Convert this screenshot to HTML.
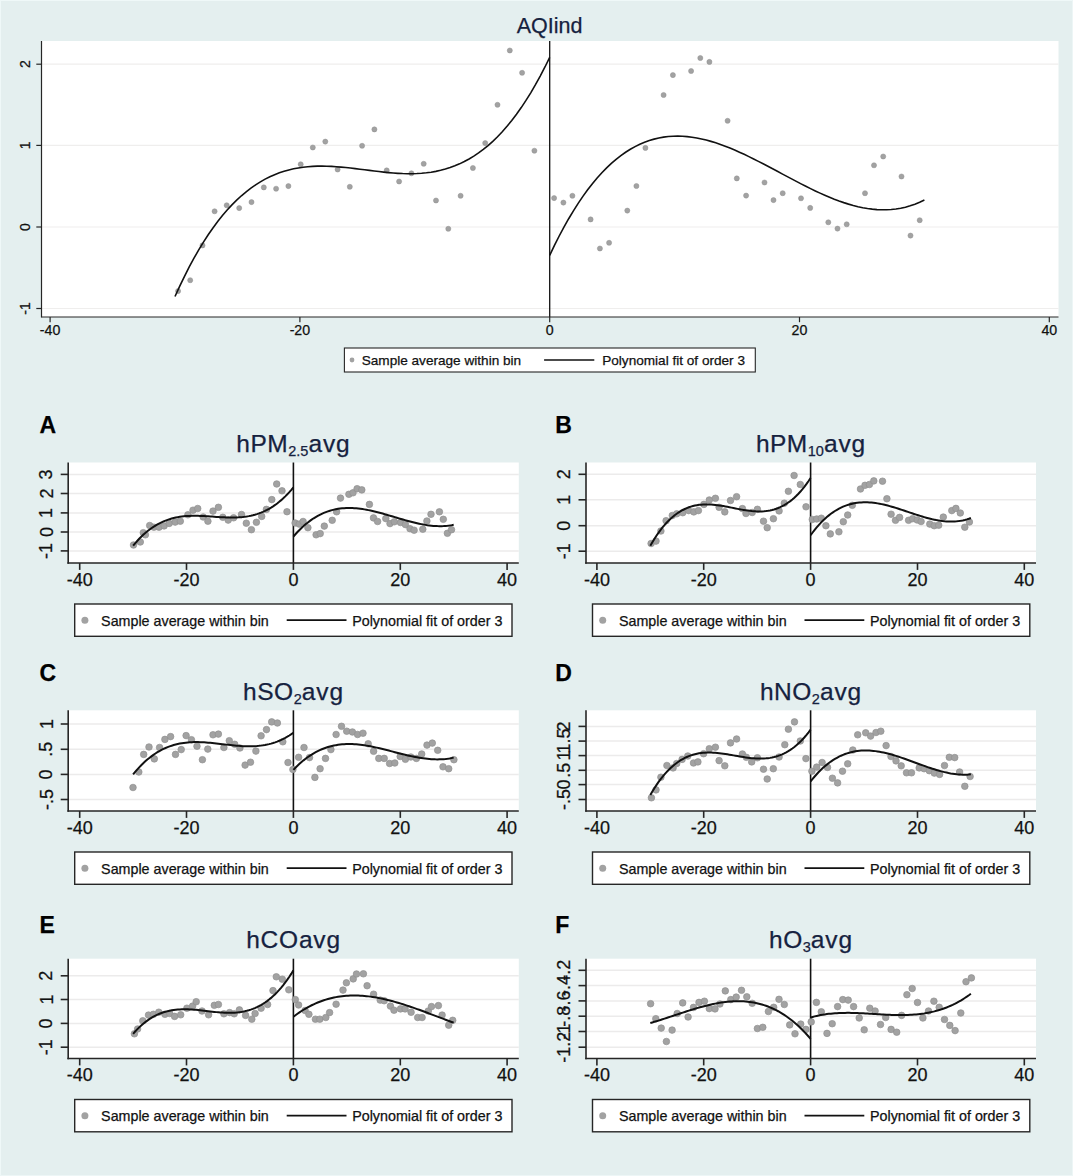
<!DOCTYPE html>
<html><head><meta charset="utf-8"><title>rdplot</title>
<style>html,body{margin:0;padding:0;background:#e4efef;overflow:hidden;}svg{display:block;}text{font-family:"Liberation Sans",sans-serif;stroke-width:0.25px;}</style>
</head><body>
<svg width="1073" height="1176" viewBox="0 0 1073 1176" font-family="Liberation Sans, sans-serif">
<rect x="0" y="0" width="1073" height="1176" fill="#e4efef"/>
<rect x="0" y="0" width="1073" height="1" fill="#eff8f8"/>
<rect x="0" y="0" width="1" height="1176" fill="#eff8f8"/>
<rect x="1072" y="0" width="1" height="1176" fill="#edf6f6"/>
<rect x="0" y="1175" width="1073" height="1" fill="#edf6f6"/>
<rect x="41.5" y="41" width="1017.0" height="276" fill="#ffffff"/>
<line x1="41.5" x2="1058.5" y1="64.2" y2="64.2" stroke="#efeeed" stroke-width="1.2"/>
<line x1="41.5" x2="1058.5" y1="145.4" y2="145.4" stroke="#efeeed" stroke-width="1.2"/>
<line x1="41.5" x2="1058.5" y1="227" y2="227" stroke="#efeeed" stroke-width="1.2"/>
<line x1="41.5" x2="1058.5" y1="308.5" y2="308.5" stroke="#efeeed" stroke-width="1.2"/>
<line x1="549.7" x2="549.7" y1="41" y2="317" stroke="#111111" stroke-width="1.3"/>
<circle cx="178.1" cy="291.1" r="2.55" fill="#a2a2a2" stroke="#909090" stroke-width="0.5"/>
<circle cx="190.2" cy="280.2" r="2.55" fill="#a2a2a2" stroke="#909090" stroke-width="0.5"/>
<circle cx="202.5" cy="245.4" r="2.55" fill="#a2a2a2" stroke="#909090" stroke-width="0.5"/>
<circle cx="214.6" cy="211.3" r="2.55" fill="#a2a2a2" stroke="#909090" stroke-width="0.5"/>
<circle cx="226.7" cy="205.3" r="2.55" fill="#a2a2a2" stroke="#909090" stroke-width="0.5"/>
<circle cx="239.2" cy="208.1" r="2.55" fill="#a2a2a2" stroke="#909090" stroke-width="0.5"/>
<circle cx="251.5" cy="202.1" r="2.55" fill="#a2a2a2" stroke="#909090" stroke-width="0.5"/>
<circle cx="263.8" cy="187.4" r="2.55" fill="#a2a2a2" stroke="#909090" stroke-width="0.5"/>
<circle cx="276.1" cy="188.7" r="2.55" fill="#a2a2a2" stroke="#909090" stroke-width="0.5"/>
<circle cx="288.4" cy="186.1" r="2.55" fill="#a2a2a2" stroke="#909090" stroke-width="0.5"/>
<circle cx="300.7" cy="164.3" r="2.55" fill="#a2a2a2" stroke="#909090" stroke-width="0.5"/>
<circle cx="312.8" cy="147.5" r="2.55" fill="#a2a2a2" stroke="#909090" stroke-width="0.5"/>
<circle cx="325.3" cy="141.6" r="2.55" fill="#a2a2a2" stroke="#909090" stroke-width="0.5"/>
<circle cx="337.6" cy="169.5" r="2.55" fill="#a2a2a2" stroke="#909090" stroke-width="0.5"/>
<circle cx="349.8" cy="186.8" r="2.55" fill="#a2a2a2" stroke="#909090" stroke-width="0.5"/>
<circle cx="362.1" cy="145.8" r="2.55" fill="#a2a2a2" stroke="#909090" stroke-width="0.5"/>
<circle cx="374.4" cy="129.4" r="2.55" fill="#a2a2a2" stroke="#909090" stroke-width="0.5"/>
<circle cx="386.7" cy="170.4" r="2.55" fill="#a2a2a2" stroke="#909090" stroke-width="0.5"/>
<circle cx="399.1" cy="181.5" r="2.55" fill="#a2a2a2" stroke="#909090" stroke-width="0.5"/>
<circle cx="411.4" cy="173.3" r="2.55" fill="#a2a2a2" stroke="#909090" stroke-width="0.5"/>
<circle cx="423.7" cy="163.8" r="2.55" fill="#a2a2a2" stroke="#909090" stroke-width="0.5"/>
<circle cx="436" cy="200.5" r="2.55" fill="#a2a2a2" stroke="#909090" stroke-width="0.5"/>
<circle cx="448.3" cy="228.8" r="2.55" fill="#a2a2a2" stroke="#909090" stroke-width="0.5"/>
<circle cx="460.6" cy="195.8" r="2.55" fill="#a2a2a2" stroke="#909090" stroke-width="0.5"/>
<circle cx="472.9" cy="168" r="2.55" fill="#a2a2a2" stroke="#909090" stroke-width="0.5"/>
<circle cx="485.2" cy="143.1" r="2.55" fill="#a2a2a2" stroke="#909090" stroke-width="0.5"/>
<circle cx="497.5" cy="104.8" r="2.55" fill="#a2a2a2" stroke="#909090" stroke-width="0.5"/>
<circle cx="509.8" cy="50.5" r="2.55" fill="#a2a2a2" stroke="#909090" stroke-width="0.5"/>
<circle cx="522.1" cy="72.8" r="2.55" fill="#a2a2a2" stroke="#909090" stroke-width="0.5"/>
<circle cx="534.4" cy="150.7" r="2.55" fill="#a2a2a2" stroke="#909090" stroke-width="0.5"/>
<circle cx="554.1" cy="198.1" r="2.55" fill="#a2a2a2" stroke="#909090" stroke-width="0.5"/>
<circle cx="563.4" cy="202.6" r="2.55" fill="#a2a2a2" stroke="#909090" stroke-width="0.5"/>
<circle cx="572.4" cy="195.8" r="2.55" fill="#a2a2a2" stroke="#909090" stroke-width="0.5"/>
<circle cx="590.6" cy="219.4" r="2.55" fill="#a2a2a2" stroke="#909090" stroke-width="0.5"/>
<circle cx="599.9" cy="248.5" r="2.55" fill="#a2a2a2" stroke="#909090" stroke-width="0.5"/>
<circle cx="609.1" cy="242.8" r="2.55" fill="#a2a2a2" stroke="#909090" stroke-width="0.5"/>
<circle cx="627.3" cy="210.6" r="2.55" fill="#a2a2a2" stroke="#909090" stroke-width="0.5"/>
<circle cx="636.4" cy="186" r="2.55" fill="#a2a2a2" stroke="#909090" stroke-width="0.5"/>
<circle cx="645.4" cy="147.9" r="2.55" fill="#a2a2a2" stroke="#909090" stroke-width="0.5"/>
<circle cx="663.6" cy="95" r="2.55" fill="#a2a2a2" stroke="#909090" stroke-width="0.5"/>
<circle cx="672.9" cy="75.1" r="2.55" fill="#a2a2a2" stroke="#909090" stroke-width="0.5"/>
<circle cx="691.1" cy="71" r="2.55" fill="#a2a2a2" stroke="#909090" stroke-width="0.5"/>
<circle cx="700.3" cy="58" r="2.55" fill="#a2a2a2" stroke="#909090" stroke-width="0.5"/>
<circle cx="709.4" cy="61.9" r="2.55" fill="#a2a2a2" stroke="#909090" stroke-width="0.5"/>
<circle cx="727.6" cy="120.8" r="2.55" fill="#a2a2a2" stroke="#909090" stroke-width="0.5"/>
<circle cx="736.8" cy="178.4" r="2.55" fill="#a2a2a2" stroke="#909090" stroke-width="0.5"/>
<circle cx="746.1" cy="195.6" r="2.55" fill="#a2a2a2" stroke="#909090" stroke-width="0.5"/>
<circle cx="764.5" cy="182.5" r="2.55" fill="#a2a2a2" stroke="#909090" stroke-width="0.5"/>
<circle cx="773.5" cy="200.1" r="2.55" fill="#a2a2a2" stroke="#909090" stroke-width="0.5"/>
<circle cx="782.7" cy="193.2" r="2.55" fill="#a2a2a2" stroke="#909090" stroke-width="0.5"/>
<circle cx="801" cy="198.3" r="2.55" fill="#a2a2a2" stroke="#909090" stroke-width="0.5"/>
<circle cx="810.2" cy="207.9" r="2.55" fill="#a2a2a2" stroke="#909090" stroke-width="0.5"/>
<circle cx="828.3" cy="222.3" r="2.55" fill="#a2a2a2" stroke="#909090" stroke-width="0.5"/>
<circle cx="837.5" cy="228.6" r="2.55" fill="#a2a2a2" stroke="#909090" stroke-width="0.5"/>
<circle cx="846.7" cy="224.3" r="2.55" fill="#a2a2a2" stroke="#909090" stroke-width="0.5"/>
<circle cx="865" cy="193.2" r="2.55" fill="#a2a2a2" stroke="#909090" stroke-width="0.5"/>
<circle cx="874" cy="165.3" r="2.55" fill="#a2a2a2" stroke="#909090" stroke-width="0.5"/>
<circle cx="883.2" cy="156.5" r="2.55" fill="#a2a2a2" stroke="#909090" stroke-width="0.5"/>
<circle cx="901.5" cy="176.5" r="2.55" fill="#a2a2a2" stroke="#909090" stroke-width="0.5"/>
<circle cx="910.5" cy="235.6" r="2.55" fill="#a2a2a2" stroke="#909090" stroke-width="0.5"/>
<circle cx="919.7" cy="220.2" r="2.55" fill="#a2a2a2" stroke="#909090" stroke-width="0.5"/>
<path d="M175.00,296.52 L179.74,286.12 L184.49,276.28 L189.23,266.97 L193.97,258.18 L198.72,249.89 L203.46,242.10 L208.20,234.78 L212.94,227.93 L217.69,221.53 L222.43,215.56 L227.17,210.01 L231.92,204.88 L236.66,200.13 L241.40,195.77 L246.15,191.77 L250.89,188.12 L255.63,184.81 L260.37,181.83 L265.12,179.15 L269.86,176.77 L274.60,174.67 L279.35,172.84 L284.09,171.27 L288.83,169.93 L293.58,168.82 L298.32,167.92 L303.06,167.22 L307.81,166.71 L312.55,166.36 L317.29,166.17 L322.03,166.13 L326.78,166.21 L331.52,166.41 L336.26,166.70 L341.01,167.08 L345.75,167.54 L350.49,168.05 L355.24,168.61 L359.98,169.20 L364.72,169.80 L369.46,170.41 L374.21,171.01 L378.95,171.58 L383.69,172.11 L388.44,172.59 L393.18,173.00 L397.92,173.33 L402.67,173.56 L407.41,173.68 L412.15,173.69 L416.89,173.55 L421.64,173.26 L426.38,172.81 L431.12,172.18 L435.87,171.35 L440.61,170.32 L445.35,169.07 L450.10,167.58 L454.84,165.85 L459.58,163.85 L464.33,161.57 L469.07,159.01 L473.81,156.13 L478.55,152.94 L483.30,149.42 L488.04,145.55 L492.78,141.32 L497.53,136.71 L502.27,131.72 L507.01,126.32 L511.76,120.51 L516.50,114.27 L521.24,107.58 L525.98,100.43 L530.73,92.81 L535.47,84.70 L540.21,76.10 L544.96,66.98 L549.70,57.33" fill="none" stroke="#111111" stroke-width="1.6"/>
<path d="M549.70,255.28 L554.44,245.38 L559.19,236.00 L563.93,227.11 L568.67,218.72 L573.42,210.80 L578.16,203.36 L582.90,196.37 L587.64,189.82 L592.39,183.72 L597.13,178.03 L601.87,172.77 L606.62,167.90 L611.36,163.43 L616.10,159.35 L620.85,155.63 L625.59,152.28 L630.33,149.27 L635.07,146.61 L639.82,144.27 L644.56,142.25 L649.30,140.54 L654.05,139.13 L658.79,138.00 L663.53,137.14 L668.28,136.55 L673.02,136.22 L677.76,136.13 L682.51,136.27 L687.25,136.63 L691.99,137.20 L696.73,137.97 L701.48,138.93 L706.22,140.07 L710.96,141.38 L715.71,142.85 L720.45,144.46 L725.19,146.21 L729.94,148.08 L734.68,150.07 L739.42,152.16 L744.16,154.34 L748.91,156.60 L753.65,158.94 L758.39,161.34 L763.14,163.78 L767.88,166.27 L772.62,168.78 L777.37,171.32 L782.11,173.86 L786.85,176.39 L791.59,178.91 L796.34,181.41 L801.08,183.87 L805.82,186.28 L810.57,188.64 L815.31,190.93 L820.05,193.13 L824.80,195.25 L829.54,197.27 L834.28,199.18 L839.03,200.97 L843.77,202.62 L848.51,204.13 L853.25,205.49 L858.00,206.68 L862.74,207.70 L867.48,208.53 L872.23,209.16 L876.97,209.59 L881.71,209.80 L886.46,209.78 L891.20,209.52 L895.94,209.01 L900.68,208.23 L905.43,207.19 L910.17,205.86 L914.91,204.24 L919.66,202.32 L924.40,200.08" fill="none" stroke="#111111" stroke-width="1.6"/>
<line x1="41.5" x2="41.5" y1="41" y2="317.5" stroke="#262626" stroke-width="1.2"/>
<line x1="41.5" x2="1058.5" y1="317" y2="317" stroke="#262626" stroke-width="1.2"/>
<line x1="36.3" x2="41.5" y1="64.2" y2="64.2" stroke="#262626" stroke-width="1.2"/>
<text x="29.8" y="64.2" transform="rotate(-90 29.8 64.2)" text-anchor="middle" font-size="14" fill="#111111" stroke="#111111">2</text>
<line x1="36.3" x2="41.5" y1="145.4" y2="145.4" stroke="#262626" stroke-width="1.2"/>
<text x="29.8" y="145.4" transform="rotate(-90 29.8 145.4)" text-anchor="middle" font-size="14" fill="#111111" stroke="#111111">1</text>
<line x1="36.3" x2="41.5" y1="227" y2="227" stroke="#262626" stroke-width="1.2"/>
<text x="29.8" y="227" transform="rotate(-90 29.8 227)" text-anchor="middle" font-size="14" fill="#111111" stroke="#111111">0</text>
<line x1="36.3" x2="41.5" y1="308.5" y2="308.5" stroke="#262626" stroke-width="1.2"/>
<text x="29.8" y="308.5" transform="rotate(-90 29.8 308.5)" text-anchor="middle" font-size="14" fill="#111111" stroke="#111111">-1</text>
<line x1="50.1" x2="50.1" y1="317" y2="322.2" stroke="#262626" stroke-width="1.2"/>
<text x="50.1" y="334.8" text-anchor="middle" font-size="14.2" fill="#111111" stroke="#111111">-40</text>
<line x1="299.9" x2="299.9" y1="317" y2="322.2" stroke="#262626" stroke-width="1.2"/>
<text x="299.9" y="334.8" text-anchor="middle" font-size="14.2" fill="#111111" stroke="#111111">-20</text>
<line x1="549.7" x2="549.7" y1="317" y2="322.2" stroke="#262626" stroke-width="1.2"/>
<text x="549.7" y="334.8" text-anchor="middle" font-size="14.2" fill="#111111" stroke="#111111">0</text>
<line x1="799.5" x2="799.5" y1="317" y2="322.2" stroke="#262626" stroke-width="1.2"/>
<text x="799.5" y="334.8" text-anchor="middle" font-size="14.2" fill="#111111" stroke="#111111">20</text>
<line x1="1049.3" x2="1049.3" y1="317" y2="322.2" stroke="#262626" stroke-width="1.2"/>
<text x="1049.3" y="334.8" text-anchor="middle" font-size="14.2" fill="#111111" stroke="#111111">40</text>
<text x="549.5" y="32.8" text-anchor="middle" font-size="21.5" fill="#16223f" stroke="#16223f">AQIind</text>
<rect x="344.4" y="348" width="410.9" height="24" fill="#ffffff" stroke="#262626" stroke-width="1.1"/>
<circle cx="352" cy="360" r="2.4" fill="#a2a2a2"/>
<text x="361.7" y="365" font-size="13.6" fill="#111111" stroke="#111111">Sample average within bin</text>
<line x1="544.1" x2="594.3" y1="360" y2="360" stroke="#111111" stroke-width="1.3"/>
<text x="602.2" y="365" font-size="13.6" fill="#111111" stroke="#111111">Polynomial fit of order 3</text>
<rect x="68.2" y="462.5" width="450.59999999999997" height="100.5" fill="#ffffff"/>
<line x1="68.2" x2="518.8" y1="474.4" y2="474.4" stroke="#ecebeb" stroke-width="1.5"/>
<line x1="68.2" x2="518.8" y1="493.5" y2="493.5" stroke="#ecebeb" stroke-width="1.5"/>
<line x1="68.2" x2="518.8" y1="512.9" y2="512.9" stroke="#ecebeb" stroke-width="1.5"/>
<line x1="68.2" x2="518.8" y1="532" y2="532" stroke="#ecebeb" stroke-width="1.5"/>
<line x1="68.2" x2="518.8" y1="550.9" y2="550.9" stroke="#ecebeb" stroke-width="1.5"/>
<line x1="293.4" x2="293.4" y1="462.5" y2="563.0" stroke="#111111" stroke-width="1.6"/>
<circle cx="133.5" cy="545" r="3.3" fill="#a2a2a2" stroke="#909090" stroke-width="0.7"/>
<circle cx="140.3" cy="542" r="3.3" fill="#a2a2a2" stroke="#909090" stroke-width="0.7"/>
<circle cx="143.3" cy="532.7" r="3.3" fill="#a2a2a2" stroke="#909090" stroke-width="0.7"/>
<circle cx="145.4" cy="534.8" r="3.3" fill="#a2a2a2" stroke="#909090" stroke-width="0.7"/>
<circle cx="149.7" cy="525.5" r="3.3" fill="#a2a2a2" stroke="#909090" stroke-width="0.7"/>
<circle cx="153.9" cy="527.2" r="3.3" fill="#a2a2a2" stroke="#909090" stroke-width="0.7"/>
<circle cx="159" cy="527.2" r="3.3" fill="#a2a2a2" stroke="#909090" stroke-width="0.7"/>
<circle cx="164.1" cy="525.9" r="3.3" fill="#a2a2a2" stroke="#909090" stroke-width="0.7"/>
<circle cx="169.2" cy="523.4" r="3.3" fill="#a2a2a2" stroke="#909090" stroke-width="0.7"/>
<circle cx="175.2" cy="522.1" r="3.3" fill="#a2a2a2" stroke="#909090" stroke-width="0.7"/>
<circle cx="180.3" cy="521.2" r="3.3" fill="#a2a2a2" stroke="#909090" stroke-width="0.7"/>
<circle cx="187.9" cy="514.8" r="3.3" fill="#a2a2a2" stroke="#909090" stroke-width="0.7"/>
<circle cx="193" cy="510.2" r="3.3" fill="#a2a2a2" stroke="#909090" stroke-width="0.7"/>
<circle cx="197.7" cy="508.5" r="3.3" fill="#a2a2a2" stroke="#909090" stroke-width="0.7"/>
<circle cx="203.2" cy="517" r="3.3" fill="#a2a2a2" stroke="#909090" stroke-width="0.7"/>
<circle cx="207.9" cy="521.2" r="3.3" fill="#a2a2a2" stroke="#909090" stroke-width="0.7"/>
<circle cx="213" cy="511.1" r="3.3" fill="#a2a2a2" stroke="#909090" stroke-width="0.7"/>
<circle cx="218.4" cy="507.3" r="3.3" fill="#a2a2a2" stroke="#909090" stroke-width="0.7"/>
<circle cx="222.8" cy="517.3" r="3.3" fill="#a2a2a2" stroke="#909090" stroke-width="0.7"/>
<circle cx="228.2" cy="520.1" r="3.3" fill="#a2a2a2" stroke="#909090" stroke-width="0.7"/>
<circle cx="233.6" cy="517.8" r="3.3" fill="#a2a2a2" stroke="#909090" stroke-width="0.7"/>
<circle cx="241.5" cy="514.5" r="3.3" fill="#a2a2a2" stroke="#909090" stroke-width="0.7"/>
<circle cx="246.3" cy="523.2" r="3.3" fill="#a2a2a2" stroke="#909090" stroke-width="0.7"/>
<circle cx="251.4" cy="529.7" r="3.3" fill="#a2a2a2" stroke="#909090" stroke-width="0.7"/>
<circle cx="256.4" cy="522.3" r="3.3" fill="#a2a2a2" stroke="#909090" stroke-width="0.7"/>
<circle cx="261.7" cy="516.4" r="3.3" fill="#a2a2a2" stroke="#909090" stroke-width="0.7"/>
<circle cx="266.4" cy="509.4" r="3.3" fill="#a2a2a2" stroke="#909090" stroke-width="0.7"/>
<circle cx="271.8" cy="499.6" r="3.3" fill="#a2a2a2" stroke="#909090" stroke-width="0.7"/>
<circle cx="276.7" cy="484" r="3.3" fill="#a2a2a2" stroke="#909090" stroke-width="0.7"/>
<circle cx="282" cy="490.8" r="3.3" fill="#a2a2a2" stroke="#909090" stroke-width="0.7"/>
<circle cx="287" cy="511.7" r="3.3" fill="#a2a2a2" stroke="#909090" stroke-width="0.7"/>
<circle cx="295.1" cy="523" r="3.3" fill="#a2a2a2" stroke="#909090" stroke-width="0.7"/>
<circle cx="299.2" cy="524.1" r="3.3" fill="#a2a2a2" stroke="#909090" stroke-width="0.7"/>
<circle cx="303.1" cy="521.5" r="3.3" fill="#a2a2a2" stroke="#909090" stroke-width="0.7"/>
<circle cx="307.9" cy="527.7" r="3.3" fill="#a2a2a2" stroke="#909090" stroke-width="0.7"/>
<circle cx="316.1" cy="534.8" r="3.3" fill="#a2a2a2" stroke="#909090" stroke-width="0.7"/>
<circle cx="320.2" cy="533.6" r="3.3" fill="#a2a2a2" stroke="#909090" stroke-width="0.7"/>
<circle cx="324.3" cy="526.1" r="3.3" fill="#a2a2a2" stroke="#909090" stroke-width="0.7"/>
<circle cx="332.2" cy="520.3" r="3.3" fill="#a2a2a2" stroke="#909090" stroke-width="0.7"/>
<circle cx="336.6" cy="511.8" r="3.3" fill="#a2a2a2" stroke="#909090" stroke-width="0.7"/>
<circle cx="340.5" cy="498.1" r="3.3" fill="#a2a2a2" stroke="#909090" stroke-width="0.7"/>
<circle cx="348.9" cy="494.3" r="3.3" fill="#a2a2a2" stroke="#909090" stroke-width="0.7"/>
<circle cx="353" cy="492.8" r="3.3" fill="#a2a2a2" stroke="#909090" stroke-width="0.7"/>
<circle cx="357.1" cy="488.7" r="3.3" fill="#a2a2a2" stroke="#909090" stroke-width="0.7"/>
<circle cx="361.8" cy="489.9" r="3.3" fill="#a2a2a2" stroke="#909090" stroke-width="0.7"/>
<circle cx="369.4" cy="504.4" r="3.3" fill="#a2a2a2" stroke="#909090" stroke-width="0.7"/>
<circle cx="373.5" cy="517.9" r="3.3" fill="#a2a2a2" stroke="#909090" stroke-width="0.7"/>
<circle cx="377.6" cy="521.5" r="3.3" fill="#a2a2a2" stroke="#909090" stroke-width="0.7"/>
<circle cx="385.8" cy="518.6" r="3.3" fill="#a2a2a2" stroke="#909090" stroke-width="0.7"/>
<circle cx="390" cy="523.6" r="3.3" fill="#a2a2a2" stroke="#909090" stroke-width="0.7"/>
<circle cx="394.3" cy="521.8" r="3.3" fill="#a2a2a2" stroke="#909090" stroke-width="0.7"/>
<circle cx="400.5" cy="522.5" r="3.3" fill="#a2a2a2" stroke="#909090" stroke-width="0.7"/>
<circle cx="405.4" cy="524.6" r="3.3" fill="#a2a2a2" stroke="#909090" stroke-width="0.7"/>
<circle cx="410" cy="528.7" r="3.3" fill="#a2a2a2" stroke="#909090" stroke-width="0.7"/>
<circle cx="414.1" cy="530.2" r="3.3" fill="#a2a2a2" stroke="#909090" stroke-width="0.7"/>
<circle cx="422.8" cy="529.2" r="3.3" fill="#a2a2a2" stroke="#909090" stroke-width="0.7"/>
<circle cx="426.9" cy="521" r="3.3" fill="#a2a2a2" stroke="#909090" stroke-width="0.7"/>
<circle cx="431" cy="514.3" r="3.3" fill="#a2a2a2" stroke="#909090" stroke-width="0.7"/>
<circle cx="439.4" cy="511.8" r="3.3" fill="#a2a2a2" stroke="#909090" stroke-width="0.7"/>
<circle cx="443.3" cy="519.3" r="3.3" fill="#a2a2a2" stroke="#909090" stroke-width="0.7"/>
<circle cx="447.4" cy="533.3" r="3.3" fill="#a2a2a2" stroke="#909090" stroke-width="0.7"/>
<circle cx="451.5" cy="529.7" r="3.3" fill="#a2a2a2" stroke="#909090" stroke-width="0.7"/>
<path d="M133.11,545.71 L135.14,543.28 L137.17,540.98 L139.20,538.81 L141.23,536.76 L143.25,534.84 L145.28,533.03 L147.31,531.33 L149.34,529.74 L151.37,528.26 L153.40,526.89 L155.43,525.61 L157.46,524.43 L159.49,523.34 L161.52,522.34 L163.54,521.43 L165.57,520.60 L167.60,519.85 L169.63,519.17 L171.66,518.57 L173.69,518.04 L175.72,517.58 L177.75,517.17 L179.78,516.83 L181.81,516.54 L183.83,516.30 L185.86,516.12 L187.89,515.97 L189.92,515.88 L191.95,515.81 L193.98,515.79 L196.01,515.80 L198.04,515.83 L200.07,515.89 L202.10,515.97 L204.12,516.08 L206.15,516.19 L208.18,516.32 L210.21,516.46 L212.24,516.60 L214.27,516.74 L216.30,516.88 L218.33,517.02 L220.36,517.14 L222.39,517.26 L224.41,517.36 L226.44,517.44 L228.47,517.50 L230.50,517.53 L232.53,517.53 L234.56,517.50 L236.59,517.44 L238.62,517.34 L240.65,517.19 L242.68,517.00 L244.70,516.76 L246.73,516.47 L248.76,516.12 L250.79,515.71 L252.82,515.23 L254.85,514.70 L256.88,514.09 L258.91,513.41 L260.94,512.65 L262.97,511.81 L264.99,510.89 L267.02,509.89 L269.05,508.79 L271.08,507.60 L273.11,506.31 L275.14,504.93 L277.17,503.43 L279.20,501.84 L281.23,500.13 L283.26,498.31 L285.28,496.37 L287.31,494.31 L289.34,492.13 L291.37,489.82 L293.40,487.38" fill="none" stroke="#111111" stroke-width="2"/>
<path d="M293.40,536.56 L295.43,534.23 L297.46,532.02 L299.49,529.93 L301.52,527.95 L303.54,526.07 L305.57,524.31 L307.60,522.66 L309.63,521.10 L311.66,519.65 L313.69,518.29 L315.72,517.04 L317.75,515.87 L319.78,514.80 L321.81,513.81 L323.83,512.91 L325.86,512.10 L327.89,511.37 L329.92,510.71 L331.95,510.13 L333.98,509.63 L336.01,509.20 L338.04,508.84 L340.07,508.54 L342.10,508.31 L344.12,508.15 L346.15,508.04 L348.18,507.99 L350.21,507.99 L352.24,508.05 L354.27,508.16 L356.30,508.31 L358.33,508.52 L360.36,508.76 L362.39,509.04 L364.41,509.37 L366.44,509.73 L368.47,510.12 L370.50,510.54 L372.53,510.99 L374.56,511.47 L376.59,511.97 L378.62,512.49 L380.65,513.04 L382.68,513.59 L384.70,514.17 L386.73,514.75 L388.76,515.34 L390.79,515.95 L392.82,516.55 L394.85,517.16 L396.88,517.76 L398.91,518.37 L400.94,518.97 L402.97,519.56 L404.99,520.14 L407.02,520.71 L409.05,521.26 L411.08,521.80 L413.11,522.32 L415.14,522.81 L417.17,523.28 L419.20,523.73 L421.23,524.14 L423.26,524.52 L425.28,524.87 L427.31,525.19 L429.34,525.46 L431.37,525.69 L433.40,525.88 L435.43,526.03 L437.46,526.12 L439.49,526.16 L441.52,526.15 L443.55,526.09 L445.57,525.96 L447.60,525.78 L449.63,525.53 L451.66,525.22 L453.69,524.84" fill="none" stroke="#111111" stroke-width="2"/>
<line x1="68.2" x2="68.2" y1="462.5" y2="563.8" stroke="#262626" stroke-width="1.6"/>
<line x1="67.4" x2="518.8" y1="563.0" y2="563.0" stroke="#262626" stroke-width="1.6"/>
<line x1="60.7" x2="68.2" y1="474.4" y2="474.4" stroke="#262626" stroke-width="1.6"/>
<text x="52.5" y="474.4" transform="rotate(-90 52.5 474.4)" text-anchor="middle" font-size="18" fill="#111111" stroke="#111111">3</text>
<line x1="60.7" x2="68.2" y1="493.5" y2="493.5" stroke="#262626" stroke-width="1.6"/>
<text x="52.5" y="493.5" transform="rotate(-90 52.5 493.5)" text-anchor="middle" font-size="18" fill="#111111" stroke="#111111">2</text>
<line x1="60.7" x2="68.2" y1="512.9" y2="512.9" stroke="#262626" stroke-width="1.6"/>
<text x="52.5" y="512.9" transform="rotate(-90 52.5 512.9)" text-anchor="middle" font-size="18" fill="#111111" stroke="#111111">1</text>
<line x1="60.7" x2="68.2" y1="532" y2="532" stroke="#262626" stroke-width="1.6"/>
<text x="52.5" y="532" transform="rotate(-90 52.5 532)" text-anchor="middle" font-size="18" fill="#111111" stroke="#111111">0</text>
<line x1="60.7" x2="68.2" y1="550.9" y2="550.9" stroke="#262626" stroke-width="1.6"/>
<text x="52.5" y="550.9" transform="rotate(-90 52.5 550.9)" text-anchor="middle" font-size="18" fill="#111111" stroke="#111111">-1</text>
<line x1="79.7" x2="79.7" y1="563.0" y2="569.9" stroke="#262626" stroke-width="1.6"/>
<text x="79.7" y="585.7" text-anchor="middle" font-size="18" fill="#111111" stroke="#111111">-40</text>
<line x1="186.5" x2="186.5" y1="563.0" y2="569.9" stroke="#262626" stroke-width="1.6"/>
<text x="186.5" y="585.7" text-anchor="middle" font-size="18" fill="#111111" stroke="#111111">-20</text>
<line x1="293.4" x2="293.4" y1="563.0" y2="569.9" stroke="#262626" stroke-width="1.6"/>
<text x="293.4" y="585.7" text-anchor="middle" font-size="18" fill="#111111" stroke="#111111">0</text>
<line x1="400.3" x2="400.3" y1="563.0" y2="569.9" stroke="#262626" stroke-width="1.6"/>
<text x="400.3" y="585.7" text-anchor="middle" font-size="18" fill="#111111" stroke="#111111">20</text>
<line x1="507.1" x2="507.1" y1="563.0" y2="569.9" stroke="#262626" stroke-width="1.6"/>
<text x="507.1" y="585.7" text-anchor="middle" font-size="18" fill="#111111" stroke="#111111">40</text>
<text x="293.5" y="451.9" text-anchor="middle" font-size="24.5" letter-spacing="0.5" fill="#16223f" stroke="#16223f">hPM<tspan font-size="14.5" letter-spacing="0" dy="4">2.5</tspan><tspan dy="-4" letter-spacing="0.9">avg</tspan></text>
<text x="39.5" y="433.0" font-size="23" font-weight="bold" fill="#000" stroke="#000">A</text>
<rect x="74.7" y="604.0" width="437.3" height="32.3" fill="#ffffff" stroke="#262626" stroke-width="1.4"/>
<circle cx="84.9" cy="620.2" r="3.5" fill="#a2a2a2"/>
<text x="101.1" y="625.5" font-size="14.3" fill="#111111" stroke="#111111">Sample average within bin</text>
<line x1="286.7" x2="346.5" y1="620.2" y2="620.2" stroke="#111111" stroke-width="1.8"/>
<text x="352.2" y="625.5" font-size="14.3" fill="#111111" stroke="#111111">Polynomial fit of order 3</text>
<rect x="586.0" y="462.5" width="450.0" height="100.5" fill="#ffffff"/>
<line x1="586.0" x2="1036.0" y1="474.3" y2="474.3" stroke="#ecebeb" stroke-width="1.5"/>
<line x1="586.0" x2="1036.0" y1="499.8" y2="499.8" stroke="#ecebeb" stroke-width="1.5"/>
<line x1="586.0" x2="1036.0" y1="525.7" y2="525.7" stroke="#ecebeb" stroke-width="1.5"/>
<line x1="586.0" x2="1036.0" y1="551.2" y2="551.2" stroke="#ecebeb" stroke-width="1.5"/>
<line x1="810.6" x2="810.6" y1="462.5" y2="563.0" stroke="#111111" stroke-width="1.6"/>
<circle cx="651.1" cy="543.5" r="3.3" fill="#a2a2a2" stroke="#909090" stroke-width="0.7"/>
<circle cx="656" cy="541.1" r="3.3" fill="#a2a2a2" stroke="#909090" stroke-width="0.7"/>
<circle cx="660.9" cy="531" r="3.3" fill="#a2a2a2" stroke="#909090" stroke-width="0.7"/>
<circle cx="666.1" cy="520.7" r="3.3" fill="#a2a2a2" stroke="#909090" stroke-width="0.7"/>
<circle cx="672.3" cy="515.5" r="3.3" fill="#a2a2a2" stroke="#909090" stroke-width="0.7"/>
<circle cx="676.7" cy="513.8" r="3.3" fill="#a2a2a2" stroke="#909090" stroke-width="0.7"/>
<circle cx="682.7" cy="512.7" r="3.3" fill="#a2a2a2" stroke="#909090" stroke-width="0.7"/>
<circle cx="688.6" cy="510.6" r="3.3" fill="#a2a2a2" stroke="#909090" stroke-width="0.7"/>
<circle cx="693.8" cy="511.9" r="3.3" fill="#a2a2a2" stroke="#909090" stroke-width="0.7"/>
<circle cx="698.4" cy="510.6" r="3.3" fill="#a2a2a2" stroke="#909090" stroke-width="0.7"/>
<circle cx="703.9" cy="504.4" r="3.3" fill="#a2a2a2" stroke="#909090" stroke-width="0.7"/>
<circle cx="709.3" cy="500" r="3.3" fill="#a2a2a2" stroke="#909090" stroke-width="0.7"/>
<circle cx="715.4" cy="498.3" r="3.3" fill="#a2a2a2" stroke="#909090" stroke-width="0.7"/>
<circle cx="719.1" cy="507.3" r="3.3" fill="#a2a2a2" stroke="#909090" stroke-width="0.7"/>
<circle cx="724.8" cy="511.9" r="3.3" fill="#a2a2a2" stroke="#909090" stroke-width="0.7"/>
<circle cx="730.5" cy="500.5" r="3.3" fill="#a2a2a2" stroke="#909090" stroke-width="0.7"/>
<circle cx="736.6" cy="496.7" r="3.3" fill="#a2a2a2" stroke="#909090" stroke-width="0.7"/>
<circle cx="742.4" cy="508.6" r="3.3" fill="#a2a2a2" stroke="#909090" stroke-width="0.7"/>
<circle cx="746" cy="513.5" r="3.3" fill="#a2a2a2" stroke="#909090" stroke-width="0.7"/>
<circle cx="752.2" cy="512.5" r="3.3" fill="#a2a2a2" stroke="#909090" stroke-width="0.7"/>
<circle cx="757.4" cy="509.3" r="3.3" fill="#a2a2a2" stroke="#909090" stroke-width="0.7"/>
<circle cx="763.5" cy="521.2" r="3.3" fill="#a2a2a2" stroke="#909090" stroke-width="0.7"/>
<circle cx="767.2" cy="527.7" r="3.3" fill="#a2a2a2" stroke="#909090" stroke-width="0.7"/>
<circle cx="773.4" cy="518.7" r="3.3" fill="#a2a2a2" stroke="#909090" stroke-width="0.7"/>
<circle cx="779.1" cy="510.9" r="3.3" fill="#a2a2a2" stroke="#909090" stroke-width="0.7"/>
<circle cx="784.3" cy="503.2" r="3.3" fill="#a2a2a2" stroke="#909090" stroke-width="0.7"/>
<circle cx="788.4" cy="491.3" r="3.3" fill="#a2a2a2" stroke="#909090" stroke-width="0.7"/>
<circle cx="794.1" cy="475.5" r="3.3" fill="#a2a2a2" stroke="#909090" stroke-width="0.7"/>
<circle cx="800.3" cy="484.5" r="3.3" fill="#a2a2a2" stroke="#909090" stroke-width="0.7"/>
<circle cx="806" cy="506.8" r="3.3" fill="#a2a2a2" stroke="#909090" stroke-width="0.7"/>
<circle cx="812.3" cy="519.5" r="3.3" fill="#a2a2a2" stroke="#909090" stroke-width="0.7"/>
<circle cx="816.7" cy="519" r="3.3" fill="#a2a2a2" stroke="#909090" stroke-width="0.7"/>
<circle cx="821.3" cy="518.2" r="3.3" fill="#a2a2a2" stroke="#909090" stroke-width="0.7"/>
<circle cx="825.9" cy="525.7" r="3.3" fill="#a2a2a2" stroke="#909090" stroke-width="0.7"/>
<circle cx="830.3" cy="533.9" r="3.3" fill="#a2a2a2" stroke="#909090" stroke-width="0.7"/>
<circle cx="838.9" cy="531.8" r="3.3" fill="#a2a2a2" stroke="#909090" stroke-width="0.7"/>
<circle cx="843.3" cy="521.7" r="3.3" fill="#a2a2a2" stroke="#909090" stroke-width="0.7"/>
<circle cx="847.7" cy="515" r="3.3" fill="#a2a2a2" stroke="#909090" stroke-width="0.7"/>
<circle cx="852.3" cy="505.3" r="3.3" fill="#a2a2a2" stroke="#909090" stroke-width="0.7"/>
<circle cx="860.5" cy="489" r="3.3" fill="#a2a2a2" stroke="#909090" stroke-width="0.7"/>
<circle cx="865" cy="485.3" r="3.3" fill="#a2a2a2" stroke="#909090" stroke-width="0.7"/>
<circle cx="869.4" cy="484.5" r="3.3" fill="#a2a2a2" stroke="#909090" stroke-width="0.7"/>
<circle cx="873.8" cy="480.9" r="3.3" fill="#a2a2a2" stroke="#909090" stroke-width="0.7"/>
<circle cx="882.5" cy="481.2" r="3.3" fill="#a2a2a2" stroke="#909090" stroke-width="0.7"/>
<circle cx="886.9" cy="498.7" r="3.3" fill="#a2a2a2" stroke="#909090" stroke-width="0.7"/>
<circle cx="891.1" cy="514.2" r="3.3" fill="#a2a2a2" stroke="#909090" stroke-width="0.7"/>
<circle cx="895.5" cy="520.3" r="3.3" fill="#a2a2a2" stroke="#909090" stroke-width="0.7"/>
<circle cx="899.6" cy="517.4" r="3.3" fill="#a2a2a2" stroke="#909090" stroke-width="0.7"/>
<circle cx="908.6" cy="520.3" r="3.3" fill="#a2a2a2" stroke="#909090" stroke-width="0.7"/>
<circle cx="912.6" cy="518.7" r="3.3" fill="#a2a2a2" stroke="#909090" stroke-width="0.7"/>
<circle cx="917.2" cy="520" r="3.3" fill="#a2a2a2" stroke="#909090" stroke-width="0.7"/>
<circle cx="921.1" cy="521.5" r="3.3" fill="#a2a2a2" stroke="#909090" stroke-width="0.7"/>
<circle cx="929.8" cy="524.1" r="3.3" fill="#a2a2a2" stroke="#909090" stroke-width="0.7"/>
<circle cx="934.2" cy="525.7" r="3.3" fill="#a2a2a2" stroke="#909090" stroke-width="0.7"/>
<circle cx="938.7" cy="525.2" r="3.3" fill="#a2a2a2" stroke="#909090" stroke-width="0.7"/>
<circle cx="943.3" cy="517.1" r="3.3" fill="#a2a2a2" stroke="#909090" stroke-width="0.7"/>
<circle cx="951.8" cy="510.6" r="3.3" fill="#a2a2a2" stroke="#909090" stroke-width="0.7"/>
<circle cx="955.9" cy="508.4" r="3.3" fill="#a2a2a2" stroke="#909090" stroke-width="0.7"/>
<circle cx="960.3" cy="513" r="3.3" fill="#a2a2a2" stroke="#909090" stroke-width="0.7"/>
<circle cx="964.8" cy="527.2" r="3.3" fill="#a2a2a2" stroke="#909090" stroke-width="0.7"/>
<circle cx="969.4" cy="522" r="3.3" fill="#a2a2a2" stroke="#909090" stroke-width="0.7"/>
<path d="M650.31,545.75 L652.34,542.24 L654.37,538.92 L656.40,535.79 L658.43,532.84 L660.45,530.07 L662.48,527.48 L664.51,525.05 L666.54,522.79 L668.57,520.68 L670.60,518.73 L672.63,516.93 L674.66,515.27 L676.69,513.76 L678.72,512.37 L680.74,511.12 L682.77,509.99 L684.80,508.98 L686.83,508.08 L688.86,507.30 L690.89,506.62 L692.92,506.04 L694.95,505.55 L696.98,505.16 L699.01,504.85 L701.03,504.63 L703.06,504.48 L705.09,504.40 L707.12,504.38 L709.15,504.43 L711.18,504.54 L713.21,504.70 L715.24,504.90 L717.27,505.15 L719.30,505.43 L721.32,505.75 L723.35,506.09 L725.38,506.46 L727.41,506.84 L729.44,507.24 L731.47,507.64 L733.50,508.05 L735.53,508.46 L737.56,508.86 L739.59,509.25 L741.61,509.62 L743.64,509.97 L745.67,510.30 L747.70,510.59 L749.73,510.85 L751.76,511.07 L753.79,511.24 L755.82,511.37 L757.85,511.44 L759.88,511.44 L761.90,511.39 L763.93,511.26 L765.96,511.06 L767.99,510.78 L770.02,510.42 L772.05,509.96 L774.08,509.42 L776.11,508.77 L778.14,508.02 L780.17,507.16 L782.19,506.19 L784.22,505.10 L786.25,503.89 L788.28,502.55 L790.31,501.08 L792.34,499.47 L794.37,497.71 L796.40,495.81 L798.43,493.76 L800.46,491.55 L802.48,489.18 L804.51,486.64 L806.54,483.93 L808.57,481.04 L810.60,477.98" fill="none" stroke="#111111" stroke-width="2"/>
<path d="M810.60,535.25 L812.63,532.50 L814.66,529.89 L816.69,527.42 L818.72,525.09 L820.74,522.89 L822.77,520.83 L824.80,518.89 L826.83,517.07 L828.86,515.38 L830.89,513.81 L832.92,512.35 L834.95,511.00 L836.98,509.77 L839.01,508.64 L841.03,507.61 L843.06,506.69 L845.09,505.86 L847.12,505.13 L849.15,504.48 L851.18,503.93 L853.21,503.46 L855.24,503.07 L857.27,502.77 L859.30,502.53 L861.32,502.38 L863.35,502.29 L865.38,502.27 L867.41,502.31 L869.44,502.41 L871.47,502.57 L873.50,502.79 L875.53,503.06 L877.56,503.37 L879.59,503.73 L881.61,504.14 L883.64,504.58 L885.67,505.06 L887.70,505.58 L889.73,506.12 L891.76,506.70 L893.79,507.29 L895.82,507.91 L897.85,508.55 L899.88,509.20 L901.90,509.86 L903.93,510.54 L905.96,511.22 L907.99,511.90 L910.02,512.58 L912.05,513.26 L914.08,513.94 L916.11,514.60 L918.14,515.25 L920.17,515.89 L922.19,516.51 L924.22,517.11 L926.25,517.68 L928.28,518.23 L930.31,518.74 L932.34,519.23 L934.37,519.67 L936.40,520.08 L938.43,520.44 L940.46,520.76 L942.48,521.03 L944.51,521.25 L946.54,521.42 L948.57,521.52 L950.60,521.57 L952.63,521.55 L954.66,521.47 L956.69,521.31 L958.72,521.08 L960.75,520.78 L962.77,520.40 L964.80,519.93 L966.83,519.38 L968.86,518.74 L970.89,518.01" fill="none" stroke="#111111" stroke-width="2"/>
<line x1="586.0" x2="586.0" y1="462.5" y2="563.8" stroke="#262626" stroke-width="1.6"/>
<line x1="585.2" x2="1036.0" y1="563.0" y2="563.0" stroke="#262626" stroke-width="1.6"/>
<line x1="578.5" x2="586.0" y1="474.3" y2="474.3" stroke="#262626" stroke-width="1.6"/>
<text x="570.3" y="474.3" transform="rotate(-90 570.3 474.3)" text-anchor="middle" font-size="18" fill="#111111" stroke="#111111">2</text>
<line x1="578.5" x2="586.0" y1="499.8" y2="499.8" stroke="#262626" stroke-width="1.6"/>
<text x="570.3" y="499.8" transform="rotate(-90 570.3 499.8)" text-anchor="middle" font-size="18" fill="#111111" stroke="#111111">1</text>
<line x1="578.5" x2="586.0" y1="525.7" y2="525.7" stroke="#262626" stroke-width="1.6"/>
<text x="570.3" y="525.7" transform="rotate(-90 570.3 525.7)" text-anchor="middle" font-size="18" fill="#111111" stroke="#111111">0</text>
<line x1="578.5" x2="586.0" y1="551.2" y2="551.2" stroke="#262626" stroke-width="1.6"/>
<text x="570.3" y="551.2" transform="rotate(-90 570.3 551.2)" text-anchor="middle" font-size="18" fill="#111111" stroke="#111111">-1</text>
<line x1="596.9" x2="596.9" y1="563.0" y2="569.9" stroke="#262626" stroke-width="1.6"/>
<text x="596.9" y="585.7" text-anchor="middle" font-size="18" fill="#111111" stroke="#111111">-40</text>
<line x1="703.7" x2="703.7" y1="563.0" y2="569.9" stroke="#262626" stroke-width="1.6"/>
<text x="703.7" y="585.7" text-anchor="middle" font-size="18" fill="#111111" stroke="#111111">-20</text>
<line x1="810.6" x2="810.6" y1="563.0" y2="569.9" stroke="#262626" stroke-width="1.6"/>
<text x="810.6" y="585.7" text-anchor="middle" font-size="18" fill="#111111" stroke="#111111">0</text>
<line x1="917.5" x2="917.5" y1="563.0" y2="569.9" stroke="#262626" stroke-width="1.6"/>
<text x="917.5" y="585.7" text-anchor="middle" font-size="18" fill="#111111" stroke="#111111">20</text>
<line x1="1024.3" x2="1024.3" y1="563.0" y2="569.9" stroke="#262626" stroke-width="1.6"/>
<text x="1024.3" y="585.7" text-anchor="middle" font-size="18" fill="#111111" stroke="#111111">40</text>
<text x="811.0" y="451.9" text-anchor="middle" font-size="24.5" letter-spacing="0.5" fill="#16223f" stroke="#16223f">hPM<tspan font-size="14.5" letter-spacing="0" dy="4">10</tspan><tspan dy="-4" letter-spacing="0.9">avg</tspan></text>
<text x="555.3" y="433.0" font-size="23" font-weight="bold" fill="#000" stroke="#000">B</text>
<rect x="592.5" y="604.0" width="437.3" height="32.3" fill="#ffffff" stroke="#262626" stroke-width="1.4"/>
<circle cx="602.7" cy="620.2" r="3.5" fill="#a2a2a2"/>
<text x="618.9" y="625.5" font-size="14.3" fill="#111111" stroke="#111111">Sample average within bin</text>
<line x1="804.5" x2="864.3" y1="620.2" y2="620.2" stroke="#111111" stroke-width="1.8"/>
<text x="870.0" y="625.5" font-size="14.3" fill="#111111" stroke="#111111">Polynomial fit of order 3</text>
<rect x="68.2" y="710.3" width="450.59999999999997" height="100.70000000000005" fill="#ffffff"/>
<line x1="68.2" x2="518.8" y1="724" y2="724" stroke="#ecebeb" stroke-width="1.5"/>
<line x1="68.2" x2="518.8" y1="749.3" y2="749.3" stroke="#ecebeb" stroke-width="1.5"/>
<line x1="68.2" x2="518.8" y1="774.4" y2="774.4" stroke="#ecebeb" stroke-width="1.5"/>
<line x1="68.2" x2="518.8" y1="799.5" y2="799.5" stroke="#ecebeb" stroke-width="1.5"/>
<line x1="293.4" x2="293.4" y1="710.3" y2="811.0" stroke="#111111" stroke-width="1.6"/>
<circle cx="133" cy="787.5" r="3.3" fill="#a2a2a2" stroke="#909090" stroke-width="0.7"/>
<circle cx="138.8" cy="772" r="3.3" fill="#a2a2a2" stroke="#909090" stroke-width="0.7"/>
<circle cx="143.7" cy="754.4" r="3.3" fill="#a2a2a2" stroke="#909090" stroke-width="0.7"/>
<circle cx="149" cy="747" r="3.3" fill="#a2a2a2" stroke="#909090" stroke-width="0.7"/>
<circle cx="154.3" cy="758.9" r="3.3" fill="#a2a2a2" stroke="#909090" stroke-width="0.7"/>
<circle cx="159.6" cy="747.5" r="3.3" fill="#a2a2a2" stroke="#909090" stroke-width="0.7"/>
<circle cx="164.9" cy="739.4" r="3.3" fill="#a2a2a2" stroke="#909090" stroke-width="0.7"/>
<circle cx="170.6" cy="736.6" r="3.3" fill="#a2a2a2" stroke="#909090" stroke-width="0.7"/>
<circle cx="175.5" cy="754.4" r="3.3" fill="#a2a2a2" stroke="#909090" stroke-width="0.7"/>
<circle cx="181.2" cy="749.6" r="3.3" fill="#a2a2a2" stroke="#909090" stroke-width="0.7"/>
<circle cx="186.1" cy="735.6" r="3.3" fill="#a2a2a2" stroke="#909090" stroke-width="0.7"/>
<circle cx="191.4" cy="739.7" r="3.3" fill="#a2a2a2" stroke="#909090" stroke-width="0.7"/>
<circle cx="197" cy="746.2" r="3.3" fill="#a2a2a2" stroke="#909090" stroke-width="0.7"/>
<circle cx="202.4" cy="759.7" r="3.3" fill="#a2a2a2" stroke="#909090" stroke-width="0.7"/>
<circle cx="207.8" cy="749.1" r="3.3" fill="#a2a2a2" stroke="#909090" stroke-width="0.7"/>
<circle cx="213" cy="734.8" r="3.3" fill="#a2a2a2" stroke="#909090" stroke-width="0.7"/>
<circle cx="218.4" cy="734.1" r="3.3" fill="#a2a2a2" stroke="#909090" stroke-width="0.7"/>
<circle cx="223.9" cy="747.5" r="3.3" fill="#a2a2a2" stroke="#909090" stroke-width="0.7"/>
<circle cx="229.3" cy="740.7" r="3.3" fill="#a2a2a2" stroke="#909090" stroke-width="0.7"/>
<circle cx="234.7" cy="744.3" r="3.3" fill="#a2a2a2" stroke="#909090" stroke-width="0.7"/>
<circle cx="239.9" cy="748" r="3.3" fill="#a2a2a2" stroke="#909090" stroke-width="0.7"/>
<circle cx="245.1" cy="765.1" r="3.3" fill="#a2a2a2" stroke="#909090" stroke-width="0.7"/>
<circle cx="250.5" cy="762.2" r="3.3" fill="#a2a2a2" stroke="#909090" stroke-width="0.7"/>
<circle cx="255.9" cy="751.1" r="3.3" fill="#a2a2a2" stroke="#909090" stroke-width="0.7"/>
<circle cx="261.1" cy="735.8" r="3.3" fill="#a2a2a2" stroke="#909090" stroke-width="0.7"/>
<circle cx="266.5" cy="729.6" r="3.3" fill="#a2a2a2" stroke="#909090" stroke-width="0.7"/>
<circle cx="271.7" cy="721.9" r="3.3" fill="#a2a2a2" stroke="#909090" stroke-width="0.7"/>
<circle cx="277.4" cy="723" r="3.3" fill="#a2a2a2" stroke="#909090" stroke-width="0.7"/>
<circle cx="282.8" cy="741.8" r="3.3" fill="#a2a2a2" stroke="#909090" stroke-width="0.7"/>
<circle cx="288" cy="762.5" r="3.3" fill="#a2a2a2" stroke="#909090" stroke-width="0.7"/>
<circle cx="292.9" cy="769.5" r="3.3" fill="#a2a2a2" stroke="#909090" stroke-width="0.7"/>
<circle cx="298.6" cy="757.3" r="3.3" fill="#a2a2a2" stroke="#909090" stroke-width="0.7"/>
<circle cx="304" cy="747.5" r="3.3" fill="#a2a2a2" stroke="#909090" stroke-width="0.7"/>
<circle cx="309.5" cy="757.6" r="3.3" fill="#a2a2a2" stroke="#909090" stroke-width="0.7"/>
<circle cx="314.9" cy="777.4" r="3.3" fill="#a2a2a2" stroke="#909090" stroke-width="0.7"/>
<circle cx="320.1" cy="768.7" r="3.3" fill="#a2a2a2" stroke="#909090" stroke-width="0.7"/>
<circle cx="325.5" cy="758.4" r="3.3" fill="#a2a2a2" stroke="#909090" stroke-width="0.7"/>
<circle cx="330.9" cy="749.6" r="3.3" fill="#a2a2a2" stroke="#909090" stroke-width="0.7"/>
<circle cx="336.1" cy="734.5" r="3.3" fill="#a2a2a2" stroke="#909090" stroke-width="0.7"/>
<circle cx="341.5" cy="726.3" r="3.3" fill="#a2a2a2" stroke="#909090" stroke-width="0.7"/>
<circle cx="346.7" cy="731.2" r="3.3" fill="#a2a2a2" stroke="#909090" stroke-width="0.7"/>
<circle cx="352.4" cy="732" r="3.3" fill="#a2a2a2" stroke="#909090" stroke-width="0.7"/>
<circle cx="357.6" cy="734.5" r="3.3" fill="#a2a2a2" stroke="#909090" stroke-width="0.7"/>
<circle cx="363" cy="733.2" r="3.3" fill="#a2a2a2" stroke="#909090" stroke-width="0.7"/>
<circle cx="368.2" cy="743.8" r="3.3" fill="#a2a2a2" stroke="#909090" stroke-width="0.7"/>
<circle cx="373.6" cy="751.3" r="3.3" fill="#a2a2a2" stroke="#909090" stroke-width="0.7"/>
<circle cx="378.8" cy="758.4" r="3.3" fill="#a2a2a2" stroke="#909090" stroke-width="0.7"/>
<circle cx="384.2" cy="758.4" r="3.3" fill="#a2a2a2" stroke="#909090" stroke-width="0.7"/>
<circle cx="389.6" cy="763.5" r="3.3" fill="#a2a2a2" stroke="#909090" stroke-width="0.7"/>
<circle cx="394.8" cy="763" r="3.3" fill="#a2a2a2" stroke="#909090" stroke-width="0.7"/>
<circle cx="400.2" cy="756.5" r="3.3" fill="#a2a2a2" stroke="#909090" stroke-width="0.7"/>
<circle cx="405.4" cy="759.3" r="3.3" fill="#a2a2a2" stroke="#909090" stroke-width="0.7"/>
<circle cx="410.8" cy="757" r="3.3" fill="#a2a2a2" stroke="#909090" stroke-width="0.7"/>
<circle cx="416.4" cy="758.4" r="3.3" fill="#a2a2a2" stroke="#909090" stroke-width="0.7"/>
<circle cx="421.7" cy="754" r="3.3" fill="#a2a2a2" stroke="#909090" stroke-width="0.7"/>
<circle cx="427" cy="745.1" r="3.3" fill="#a2a2a2" stroke="#909090" stroke-width="0.7"/>
<circle cx="432.3" cy="743.1" r="3.3" fill="#a2a2a2" stroke="#909090" stroke-width="0.7"/>
<circle cx="437.7" cy="750.3" r="3.3" fill="#a2a2a2" stroke="#909090" stroke-width="0.7"/>
<circle cx="443" cy="766.8" r="3.3" fill="#a2a2a2" stroke="#909090" stroke-width="0.7"/>
<circle cx="448.7" cy="768.7" r="3.3" fill="#a2a2a2" stroke="#909090" stroke-width="0.7"/>
<circle cx="453.9" cy="759.7" r="3.3" fill="#a2a2a2" stroke="#909090" stroke-width="0.7"/>
<path d="M133.11,774.40 L135.14,771.93 L137.17,769.58 L139.20,767.35 L141.23,765.24 L143.25,763.24 L145.28,761.36 L147.31,759.58 L149.34,757.91 L151.37,756.34 L153.40,754.87 L155.43,753.50 L157.46,752.22 L159.49,751.04 L161.52,749.94 L163.54,748.93 L165.57,748.00 L167.60,747.15 L169.63,746.38 L171.66,745.68 L173.69,745.06 L175.72,744.50 L177.75,744.01 L179.78,743.58 L181.81,743.22 L183.83,742.91 L185.86,742.65 L187.89,742.45 L189.92,742.29 L191.95,742.18 L193.98,742.12 L196.01,742.09 L198.04,742.11 L200.07,742.15 L202.10,742.23 L204.12,742.34 L206.15,742.47 L208.18,742.63 L210.21,742.81 L212.24,743.00 L214.27,743.22 L216.30,743.44 L218.33,743.67 L220.36,743.91 L222.39,744.15 L224.41,744.39 L226.44,744.63 L228.47,744.86 L230.50,745.09 L232.53,745.31 L234.56,745.51 L236.59,745.69 L238.62,745.86 L240.65,746.01 L242.68,746.13 L244.70,746.22 L246.73,746.28 L248.76,746.31 L250.79,746.30 L252.82,746.25 L254.85,746.16 L256.88,746.03 L258.91,745.85 L260.94,745.62 L262.97,745.33 L264.99,744.99 L267.02,744.59 L269.05,744.13 L271.08,743.60 L273.11,743.00 L275.14,742.34 L277.17,741.60 L279.20,740.79 L281.23,739.90 L283.26,738.92 L285.28,737.86 L287.31,736.72 L289.34,735.48 L291.37,734.15 L293.40,732.73" fill="none" stroke="#111111" stroke-width="2"/>
<path d="M293.40,769.82 L295.43,767.71 L297.46,765.72 L299.49,763.82 L301.52,762.03 L303.54,760.34 L305.57,758.75 L307.60,757.25 L309.63,755.85 L311.66,754.54 L313.69,753.32 L315.72,752.18 L317.75,751.13 L319.78,750.17 L321.81,749.28 L323.83,748.47 L325.86,747.74 L327.89,747.08 L329.92,746.49 L331.95,745.97 L333.98,745.52 L336.01,745.14 L338.04,744.81 L340.07,744.55 L342.10,744.35 L344.12,744.20 L346.15,744.10 L348.18,744.06 L350.21,744.06 L352.24,744.12 L354.27,744.22 L356.30,744.36 L358.33,744.54 L360.36,744.76 L362.39,745.01 L364.41,745.30 L366.44,745.62 L368.47,745.97 L370.50,746.34 L372.53,746.75 L374.56,747.17 L376.59,747.61 L378.62,748.08 L380.65,748.55 L382.68,749.05 L384.70,749.55 L386.73,750.06 L388.76,750.58 L390.79,751.11 L392.82,751.63 L394.85,752.16 L396.88,752.69 L398.91,753.21 L400.94,753.72 L402.97,754.23 L404.99,754.73 L407.02,755.21 L409.05,755.68 L411.08,756.13 L413.11,756.56 L415.14,756.97 L417.17,757.35 L419.20,757.71 L421.23,758.04 L423.26,758.34 L425.28,758.61 L427.31,758.84 L429.34,759.03 L431.37,759.19 L433.40,759.30 L435.43,759.37 L437.46,759.39 L439.49,759.36 L441.52,759.29 L443.55,759.16 L445.57,758.97 L447.60,758.73 L449.63,758.42 L451.66,758.06 L453.69,757.63" fill="none" stroke="#111111" stroke-width="2"/>
<line x1="68.2" x2="68.2" y1="710.3" y2="811.8" stroke="#262626" stroke-width="1.6"/>
<line x1="67.4" x2="518.8" y1="811.0" y2="811.0" stroke="#262626" stroke-width="1.6"/>
<line x1="60.7" x2="68.2" y1="724" y2="724" stroke="#262626" stroke-width="1.6"/>
<text x="52.5" y="724" transform="rotate(-90 52.5 724)" text-anchor="middle" font-size="18" fill="#111111" stroke="#111111">1</text>
<line x1="60.7" x2="68.2" y1="749.3" y2="749.3" stroke="#262626" stroke-width="1.6"/>
<text x="52.5" y="749.3" transform="rotate(-90 52.5 749.3)" text-anchor="middle" font-size="18" fill="#111111" stroke="#111111">.5</text>
<line x1="60.7" x2="68.2" y1="774.4" y2="774.4" stroke="#262626" stroke-width="1.6"/>
<text x="52.5" y="774.4" transform="rotate(-90 52.5 774.4)" text-anchor="middle" font-size="18" fill="#111111" stroke="#111111">0</text>
<line x1="60.7" x2="68.2" y1="799.5" y2="799.5" stroke="#262626" stroke-width="1.6"/>
<text x="52.5" y="799.5" transform="rotate(-90 52.5 799.5)" text-anchor="middle" font-size="18" fill="#111111" stroke="#111111">-.5</text>
<line x1="79.7" x2="79.7" y1="811.0" y2="817.9" stroke="#262626" stroke-width="1.6"/>
<text x="79.7" y="833.7" text-anchor="middle" font-size="18" fill="#111111" stroke="#111111">-40</text>
<line x1="186.5" x2="186.5" y1="811.0" y2="817.9" stroke="#262626" stroke-width="1.6"/>
<text x="186.5" y="833.7" text-anchor="middle" font-size="18" fill="#111111" stroke="#111111">-20</text>
<line x1="293.4" x2="293.4" y1="811.0" y2="817.9" stroke="#262626" stroke-width="1.6"/>
<text x="293.4" y="833.7" text-anchor="middle" font-size="18" fill="#111111" stroke="#111111">0</text>
<line x1="400.3" x2="400.3" y1="811.0" y2="817.9" stroke="#262626" stroke-width="1.6"/>
<text x="400.3" y="833.7" text-anchor="middle" font-size="18" fill="#111111" stroke="#111111">20</text>
<line x1="507.1" x2="507.1" y1="811.0" y2="817.9" stroke="#262626" stroke-width="1.6"/>
<text x="507.1" y="833.7" text-anchor="middle" font-size="18" fill="#111111" stroke="#111111">40</text>
<text x="293.5" y="700.1" text-anchor="middle" font-size="24.5" letter-spacing="0.5" fill="#16223f" stroke="#16223f">hSO<tspan font-size="14.5" letter-spacing="0" dy="4">2</tspan><tspan dy="-4" letter-spacing="0.9">avg</tspan></text>
<text x="39.5" y="680.8" font-size="23" font-weight="bold" fill="#000" stroke="#000">C</text>
<rect x="74.7" y="852.0" width="437.3" height="32.3" fill="#ffffff" stroke="#262626" stroke-width="1.4"/>
<circle cx="84.9" cy="868.2" r="3.5" fill="#a2a2a2"/>
<text x="101.1" y="873.5" font-size="14.3" fill="#111111" stroke="#111111">Sample average within bin</text>
<line x1="286.7" x2="346.5" y1="868.2" y2="868.2" stroke="#111111" stroke-width="1.8"/>
<text x="352.2" y="873.5" font-size="14.3" fill="#111111" stroke="#111111">Polynomial fit of order 3</text>
<rect x="586.0" y="710.3" width="450.0" height="100.70000000000005" fill="#ffffff"/>
<line x1="586.0" x2="1036.0" y1="726.4" y2="726.4" stroke="#ecebeb" stroke-width="1.5"/>
<line x1="586.0" x2="1036.0" y1="741.1" y2="741.1" stroke="#ecebeb" stroke-width="1.5"/>
<line x1="586.0" x2="1036.0" y1="755.6" y2="755.6" stroke="#ecebeb" stroke-width="1.5"/>
<line x1="586.0" x2="1036.0" y1="770.3" y2="770.3" stroke="#ecebeb" stroke-width="1.5"/>
<line x1="586.0" x2="1036.0" y1="784.6" y2="784.6" stroke="#ecebeb" stroke-width="1.5"/>
<line x1="586.0" x2="1036.0" y1="799.5" y2="799.5" stroke="#ecebeb" stroke-width="1.5"/>
<line x1="810.6" x2="810.6" y1="710.3" y2="811.0" stroke="#111111" stroke-width="1.6"/>
<circle cx="651.4" cy="797.8" r="3.3" fill="#a2a2a2" stroke="#909090" stroke-width="0.7"/>
<circle cx="656" cy="789.9" r="3.3" fill="#a2a2a2" stroke="#909090" stroke-width="0.7"/>
<circle cx="660.9" cy="777.2" r="3.3" fill="#a2a2a2" stroke="#909090" stroke-width="0.7"/>
<circle cx="666.9" cy="765.5" r="3.3" fill="#a2a2a2" stroke="#909090" stroke-width="0.7"/>
<circle cx="673.1" cy="767.9" r="3.3" fill="#a2a2a2" stroke="#909090" stroke-width="0.7"/>
<circle cx="676.7" cy="763.5" r="3.3" fill="#a2a2a2" stroke="#909090" stroke-width="0.7"/>
<circle cx="682.1" cy="759.4" r="3.3" fill="#a2a2a2" stroke="#909090" stroke-width="0.7"/>
<circle cx="687.8" cy="756" r="3.3" fill="#a2a2a2" stroke="#909090" stroke-width="0.7"/>
<circle cx="693.5" cy="763" r="3.3" fill="#a2a2a2" stroke="#909090" stroke-width="0.7"/>
<circle cx="697.9" cy="761.9" r="3.3" fill="#a2a2a2" stroke="#909090" stroke-width="0.7"/>
<circle cx="703.6" cy="753.7" r="3.3" fill="#a2a2a2" stroke="#909090" stroke-width="0.7"/>
<circle cx="709.3" cy="748.7" r="3.3" fill="#a2a2a2" stroke="#909090" stroke-width="0.7"/>
<circle cx="715.4" cy="747.2" r="3.3" fill="#a2a2a2" stroke="#909090" stroke-width="0.7"/>
<circle cx="719.1" cy="760.6" r="3.3" fill="#a2a2a2" stroke="#909090" stroke-width="0.7"/>
<circle cx="724.8" cy="765.8" r="3.3" fill="#a2a2a2" stroke="#909090" stroke-width="0.7"/>
<circle cx="730.5" cy="742.9" r="3.3" fill="#a2a2a2" stroke="#909090" stroke-width="0.7"/>
<circle cx="736.6" cy="739" r="3.3" fill="#a2a2a2" stroke="#909090" stroke-width="0.7"/>
<circle cx="742.4" cy="754" r="3.3" fill="#a2a2a2" stroke="#909090" stroke-width="0.7"/>
<circle cx="746.3" cy="757.3" r="3.3" fill="#a2a2a2" stroke="#909090" stroke-width="0.7"/>
<circle cx="751.7" cy="761.9" r="3.3" fill="#a2a2a2" stroke="#909090" stroke-width="0.7"/>
<circle cx="757.4" cy="757.8" r="3.3" fill="#a2a2a2" stroke="#909090" stroke-width="0.7"/>
<circle cx="763.5" cy="769.2" r="3.3" fill="#a2a2a2" stroke="#909090" stroke-width="0.7"/>
<circle cx="767.2" cy="779" r="3.3" fill="#a2a2a2" stroke="#909090" stroke-width="0.7"/>
<circle cx="773.3" cy="768.7" r="3.3" fill="#a2a2a2" stroke="#909090" stroke-width="0.7"/>
<circle cx="779.1" cy="757" r="3.3" fill="#a2a2a2" stroke="#909090" stroke-width="0.7"/>
<circle cx="784.8" cy="744.7" r="3.3" fill="#a2a2a2" stroke="#909090" stroke-width="0.7"/>
<circle cx="788.4" cy="729.2" r="3.3" fill="#a2a2a2" stroke="#909090" stroke-width="0.7"/>
<circle cx="794.5" cy="721.9" r="3.3" fill="#a2a2a2" stroke="#909090" stroke-width="0.7"/>
<circle cx="800.3" cy="741" r="3.3" fill="#a2a2a2" stroke="#909090" stroke-width="0.7"/>
<circle cx="805.9" cy="758.6" r="3.3" fill="#a2a2a2" stroke="#909090" stroke-width="0.7"/>
<circle cx="811.9" cy="771.2" r="3.3" fill="#a2a2a2" stroke="#909090" stroke-width="0.7"/>
<circle cx="816.7" cy="767.1" r="3.3" fill="#a2a2a2" stroke="#909090" stroke-width="0.7"/>
<circle cx="822.1" cy="762.5" r="3.3" fill="#a2a2a2" stroke="#909090" stroke-width="0.7"/>
<circle cx="827.5" cy="767.4" r="3.3" fill="#a2a2a2" stroke="#909090" stroke-width="0.7"/>
<circle cx="832.4" cy="778.2" r="3.3" fill="#a2a2a2" stroke="#909090" stroke-width="0.7"/>
<circle cx="837.6" cy="782.9" r="3.3" fill="#a2a2a2" stroke="#909090" stroke-width="0.7"/>
<circle cx="842.5" cy="771.2" r="3.3" fill="#a2a2a2" stroke="#909090" stroke-width="0.7"/>
<circle cx="847.7" cy="763.8" r="3.3" fill="#a2a2a2" stroke="#909090" stroke-width="0.7"/>
<circle cx="852.8" cy="750" r="3.3" fill="#a2a2a2" stroke="#909090" stroke-width="0.7"/>
<circle cx="857.7" cy="734.8" r="3.3" fill="#a2a2a2" stroke="#909090" stroke-width="0.7"/>
<circle cx="865.7" cy="732.8" r="3.3" fill="#a2a2a2" stroke="#909090" stroke-width="0.7"/>
<circle cx="870.6" cy="736.1" r="3.3" fill="#a2a2a2" stroke="#909090" stroke-width="0.7"/>
<circle cx="876" cy="732.5" r="3.3" fill="#a2a2a2" stroke="#909090" stroke-width="0.7"/>
<circle cx="880.8" cy="731.2" r="3.3" fill="#a2a2a2" stroke="#909090" stroke-width="0.7"/>
<circle cx="886.1" cy="745.6" r="3.3" fill="#a2a2a2" stroke="#909090" stroke-width="0.7"/>
<circle cx="891" cy="756.5" r="3.3" fill="#a2a2a2" stroke="#909090" stroke-width="0.7"/>
<circle cx="896" cy="760.9" r="3.3" fill="#a2a2a2" stroke="#909090" stroke-width="0.7"/>
<circle cx="901.2" cy="765.8" r="3.3" fill="#a2a2a2" stroke="#909090" stroke-width="0.7"/>
<circle cx="906.5" cy="772.8" r="3.3" fill="#a2a2a2" stroke="#909090" stroke-width="0.7"/>
<circle cx="911.5" cy="772.8" r="3.3" fill="#a2a2a2" stroke="#909090" stroke-width="0.7"/>
<circle cx="919.2" cy="767.9" r="3.3" fill="#a2a2a2" stroke="#909090" stroke-width="0.7"/>
<circle cx="924.1" cy="768.7" r="3.3" fill="#a2a2a2" stroke="#909090" stroke-width="0.7"/>
<circle cx="929.3" cy="770.7" r="3.3" fill="#a2a2a2" stroke="#909090" stroke-width="0.7"/>
<circle cx="934.3" cy="773.1" r="3.3" fill="#a2a2a2" stroke="#909090" stroke-width="0.7"/>
<circle cx="939.6" cy="774.4" r="3.3" fill="#a2a2a2" stroke="#909090" stroke-width="0.7"/>
<circle cx="944.5" cy="765.5" r="3.3" fill="#a2a2a2" stroke="#909090" stroke-width="0.7"/>
<circle cx="949.3" cy="757.3" r="3.3" fill="#a2a2a2" stroke="#909090" stroke-width="0.7"/>
<circle cx="954.7" cy="757.6" r="3.3" fill="#a2a2a2" stroke="#909090" stroke-width="0.7"/>
<circle cx="959.6" cy="772" r="3.3" fill="#a2a2a2" stroke="#909090" stroke-width="0.7"/>
<circle cx="964.8" cy="786.3" r="3.3" fill="#a2a2a2" stroke="#909090" stroke-width="0.7"/>
<circle cx="970.1" cy="776.5" r="3.3" fill="#a2a2a2" stroke="#909090" stroke-width="0.7"/>
<path d="M650.31,794.94 L652.34,791.47 L654.37,788.19 L656.40,785.09 L658.43,782.16 L660.45,779.40 L662.48,776.81 L664.51,774.38 L666.54,772.11 L668.57,769.99 L670.60,768.01 L672.63,766.18 L674.66,764.49 L676.69,762.94 L678.72,761.51 L680.74,760.20 L682.77,759.02 L684.80,757.95 L686.83,757.00 L688.86,756.15 L690.89,755.40 L692.92,754.76 L694.95,754.20 L696.98,753.73 L699.01,753.35 L701.03,753.05 L703.06,752.82 L705.09,752.67 L707.12,752.58 L709.15,752.55 L711.18,752.58 L713.21,752.66 L715.24,752.79 L717.27,752.96 L719.30,753.17 L721.32,753.42 L723.35,753.69 L725.38,753.99 L727.41,754.31 L729.44,754.65 L731.47,755.00 L733.50,755.36 L735.53,755.72 L737.56,756.08 L739.59,756.43 L741.61,756.77 L743.64,757.09 L745.67,757.40 L747.70,757.68 L749.73,757.93 L751.76,758.15 L753.79,758.33 L755.82,758.47 L757.85,758.56 L759.88,758.60 L761.90,758.58 L763.93,758.51 L765.96,758.36 L767.99,758.15 L770.02,757.87 L772.05,757.50 L774.08,757.05 L776.11,756.51 L778.14,755.89 L780.17,755.16 L782.19,754.33 L784.22,753.40 L786.25,752.36 L788.28,751.20 L790.31,749.92 L792.34,748.52 L794.37,746.99 L796.40,745.32 L798.43,743.52 L800.46,741.58 L802.48,739.49 L804.51,737.24 L806.54,734.85 L808.57,732.29 L810.60,729.57" fill="none" stroke="#111111" stroke-width="2"/>
<path d="M810.60,781.41 L812.63,778.88 L814.66,776.48 L816.69,774.21 L818.72,772.06 L820.74,770.02 L822.77,768.11 L824.80,766.31 L826.83,764.62 L828.86,763.04 L830.89,761.56 L832.92,760.20 L834.95,758.93 L836.98,757.76 L839.01,756.69 L841.03,755.72 L843.06,754.83 L845.09,754.04 L847.12,753.33 L849.15,752.71 L851.18,752.17 L853.21,751.70 L855.24,751.32 L857.27,751.01 L859.30,750.77 L861.32,750.60 L863.35,750.50 L865.38,750.46 L867.41,750.48 L869.44,750.56 L871.47,750.70 L873.50,750.89 L875.53,751.13 L877.56,751.43 L879.59,751.77 L881.61,752.15 L883.64,752.57 L885.67,753.04 L887.70,753.54 L889.73,754.07 L891.76,754.64 L893.79,755.23 L895.82,755.85 L897.85,756.50 L899.88,757.17 L901.90,757.85 L903.93,758.55 L905.96,759.27 L907.99,759.99 L910.02,760.73 L912.05,761.47 L914.08,762.22 L916.11,762.96 L918.14,763.71 L920.17,764.45 L922.19,765.18 L924.22,765.91 L926.25,766.63 L928.28,767.33 L930.31,768.01 L932.34,768.68 L934.37,769.32 L936.40,769.94 L938.43,770.53 L940.46,771.10 L942.48,771.63 L944.51,772.13 L946.54,772.59 L948.57,773.02 L950.60,773.40 L952.63,773.73 L954.66,774.02 L956.69,774.27 L958.72,774.46 L960.75,774.59 L962.77,774.67 L964.80,774.69 L966.83,774.65 L968.86,774.54 L970.89,774.37" fill="none" stroke="#111111" stroke-width="2"/>
<line x1="586.0" x2="586.0" y1="710.3" y2="811.8" stroke="#262626" stroke-width="1.6"/>
<line x1="585.2" x2="1036.0" y1="811.0" y2="811.0" stroke="#262626" stroke-width="1.6"/>
<line x1="578.5" x2="586.0" y1="726.4" y2="726.4" stroke="#262626" stroke-width="1.6"/>
<text x="570.3" y="726.4" transform="rotate(-90 570.3 726.4)" text-anchor="middle" font-size="18" fill="#111111" stroke="#111111">2</text>
<line x1="578.5" x2="586.0" y1="741.1" y2="741.1" stroke="#262626" stroke-width="1.6"/>
<text x="570.3" y="741.1" transform="rotate(-90 570.3 741.1)" text-anchor="middle" font-size="18" fill="#111111" stroke="#111111">1.5</text>
<line x1="578.5" x2="586.0" y1="755.6" y2="755.6" stroke="#262626" stroke-width="1.6"/>
<text x="570.3" y="755.6" transform="rotate(-90 570.3 755.6)" text-anchor="middle" font-size="18" fill="#111111" stroke="#111111">1</text>
<line x1="578.5" x2="586.0" y1="770.3" y2="770.3" stroke="#262626" stroke-width="1.6"/>
<text x="570.3" y="770.3" transform="rotate(-90 570.3 770.3)" text-anchor="middle" font-size="18" fill="#111111" stroke="#111111">.5</text>
<line x1="578.5" x2="586.0" y1="784.6" y2="784.6" stroke="#262626" stroke-width="1.6"/>
<text x="570.3" y="784.6" transform="rotate(-90 570.3 784.6)" text-anchor="middle" font-size="18" fill="#111111" stroke="#111111">0</text>
<line x1="578.5" x2="586.0" y1="799.5" y2="799.5" stroke="#262626" stroke-width="1.6"/>
<text x="570.3" y="799.5" transform="rotate(-90 570.3 799.5)" text-anchor="middle" font-size="18" fill="#111111" stroke="#111111">-.5</text>
<line x1="596.9" x2="596.9" y1="811.0" y2="817.9" stroke="#262626" stroke-width="1.6"/>
<text x="596.9" y="833.7" text-anchor="middle" font-size="18" fill="#111111" stroke="#111111">-40</text>
<line x1="703.7" x2="703.7" y1="811.0" y2="817.9" stroke="#262626" stroke-width="1.6"/>
<text x="703.7" y="833.7" text-anchor="middle" font-size="18" fill="#111111" stroke="#111111">-20</text>
<line x1="810.6" x2="810.6" y1="811.0" y2="817.9" stroke="#262626" stroke-width="1.6"/>
<text x="810.6" y="833.7" text-anchor="middle" font-size="18" fill="#111111" stroke="#111111">0</text>
<line x1="917.5" x2="917.5" y1="811.0" y2="817.9" stroke="#262626" stroke-width="1.6"/>
<text x="917.5" y="833.7" text-anchor="middle" font-size="18" fill="#111111" stroke="#111111">20</text>
<line x1="1024.3" x2="1024.3" y1="811.0" y2="817.9" stroke="#262626" stroke-width="1.6"/>
<text x="1024.3" y="833.7" text-anchor="middle" font-size="18" fill="#111111" stroke="#111111">40</text>
<text x="811.0" y="700.1" text-anchor="middle" font-size="24.5" letter-spacing="0.5" fill="#16223f" stroke="#16223f">hNO<tspan font-size="14.5" letter-spacing="0" dy="4">2</tspan><tspan dy="-4" letter-spacing="0.9">avg</tspan></text>
<text x="555.3" y="680.8" font-size="23" font-weight="bold" fill="#000" stroke="#000">D</text>
<rect x="592.5" y="852.0" width="437.3" height="32.3" fill="#ffffff" stroke="#262626" stroke-width="1.4"/>
<circle cx="602.7" cy="868.2" r="3.5" fill="#a2a2a2"/>
<text x="618.9" y="873.5" font-size="14.3" fill="#111111" stroke="#111111">Sample average within bin</text>
<line x1="804.5" x2="864.3" y1="868.2" y2="868.2" stroke="#111111" stroke-width="1.8"/>
<text x="870.0" y="873.5" font-size="14.3" fill="#111111" stroke="#111111">Polynomial fit of order 3</text>
<rect x="68.2" y="958.7" width="450.59999999999997" height="99.79999999999995" fill="#ffffff"/>
<line x1="68.2" x2="518.8" y1="975.8" y2="975.8" stroke="#ecebeb" stroke-width="1.5"/>
<line x1="68.2" x2="518.8" y1="999.5" y2="999.5" stroke="#ecebeb" stroke-width="1.5"/>
<line x1="68.2" x2="518.8" y1="1023.4" y2="1023.4" stroke="#ecebeb" stroke-width="1.5"/>
<line x1="68.2" x2="518.8" y1="1047.2" y2="1047.2" stroke="#ecebeb" stroke-width="1.5"/>
<line x1="293.4" x2="293.4" y1="958.7" y2="1058.5" stroke="#111111" stroke-width="1.6"/>
<circle cx="134.4" cy="1033.8" r="3.3" fill="#a2a2a2" stroke="#909090" stroke-width="0.7"/>
<circle cx="137.6" cy="1029" r="3.3" fill="#a2a2a2" stroke="#909090" stroke-width="0.7"/>
<circle cx="142.8" cy="1020.8" r="3.3" fill="#a2a2a2" stroke="#909090" stroke-width="0.7"/>
<circle cx="148.5" cy="1015.1" r="3.3" fill="#a2a2a2" stroke="#909090" stroke-width="0.7"/>
<circle cx="153.4" cy="1014.3" r="3.3" fill="#a2a2a2" stroke="#909090" stroke-width="0.7"/>
<circle cx="158.8" cy="1012.2" r="3.3" fill="#a2a2a2" stroke="#909090" stroke-width="0.7"/>
<circle cx="164.9" cy="1014.3" r="3.3" fill="#a2a2a2" stroke="#909090" stroke-width="0.7"/>
<circle cx="169.7" cy="1013.5" r="3.3" fill="#a2a2a2" stroke="#909090" stroke-width="0.7"/>
<circle cx="174.6" cy="1016.4" r="3.3" fill="#a2a2a2" stroke="#909090" stroke-width="0.7"/>
<circle cx="180.7" cy="1014.8" r="3.3" fill="#a2a2a2" stroke="#909090" stroke-width="0.7"/>
<circle cx="186.9" cy="1008.2" r="3.3" fill="#a2a2a2" stroke="#909090" stroke-width="0.7"/>
<circle cx="192.6" cy="1006.1" r="3.3" fill="#a2a2a2" stroke="#909090" stroke-width="0.7"/>
<circle cx="196.2" cy="1001.7" r="3.3" fill="#a2a2a2" stroke="#909090" stroke-width="0.7"/>
<circle cx="202" cy="1011" r="3.3" fill="#a2a2a2" stroke="#909090" stroke-width="0.7"/>
<circle cx="208.6" cy="1014.8" r="3.3" fill="#a2a2a2" stroke="#909090" stroke-width="0.7"/>
<circle cx="214.3" cy="1005.3" r="3.3" fill="#a2a2a2" stroke="#909090" stroke-width="0.7"/>
<circle cx="218.4" cy="1004.5" r="3.3" fill="#a2a2a2" stroke="#909090" stroke-width="0.7"/>
<circle cx="223.9" cy="1013.8" r="3.3" fill="#a2a2a2" stroke="#909090" stroke-width="0.7"/>
<circle cx="229.6" cy="1012.6" r="3.3" fill="#a2a2a2" stroke="#909090" stroke-width="0.7"/>
<circle cx="234.2" cy="1013.8" r="3.3" fill="#a2a2a2" stroke="#909090" stroke-width="0.7"/>
<circle cx="239.4" cy="1009.9" r="3.3" fill="#a2a2a2" stroke="#909090" stroke-width="0.7"/>
<circle cx="245.6" cy="1015.4" r="3.3" fill="#a2a2a2" stroke="#909090" stroke-width="0.7"/>
<circle cx="251.8" cy="1019.2" r="3.3" fill="#a2a2a2" stroke="#909090" stroke-width="0.7"/>
<circle cx="255.1" cy="1013.5" r="3.3" fill="#a2a2a2" stroke="#909090" stroke-width="0.7"/>
<circle cx="261.1" cy="1008.2" r="3.3" fill="#a2a2a2" stroke="#909090" stroke-width="0.7"/>
<circle cx="267.6" cy="1004.5" r="3.3" fill="#a2a2a2" stroke="#909090" stroke-width="0.7"/>
<circle cx="273" cy="990.6" r="3.3" fill="#a2a2a2" stroke="#909090" stroke-width="0.7"/>
<circle cx="276.3" cy="976.8" r="3.3" fill="#a2a2a2" stroke="#909090" stroke-width="0.7"/>
<circle cx="282.3" cy="979.2" r="3.3" fill="#a2a2a2" stroke="#909090" stroke-width="0.7"/>
<circle cx="288.8" cy="989.8" r="3.3" fill="#a2a2a2" stroke="#909090" stroke-width="0.7"/>
<circle cx="295.3" cy="999.6" r="3.3" fill="#a2a2a2" stroke="#909090" stroke-width="0.7"/>
<circle cx="298.6" cy="1005" r="3.3" fill="#a2a2a2" stroke="#909090" stroke-width="0.7"/>
<circle cx="305.1" cy="1010.5" r="3.3" fill="#a2a2a2" stroke="#909090" stroke-width="0.7"/>
<circle cx="308.9" cy="1014.3" r="3.3" fill="#a2a2a2" stroke="#909090" stroke-width="0.7"/>
<circle cx="315.4" cy="1019.2" r="3.3" fill="#a2a2a2" stroke="#909090" stroke-width="0.7"/>
<circle cx="319.8" cy="1019.2" r="3.3" fill="#a2a2a2" stroke="#909090" stroke-width="0.7"/>
<circle cx="325.8" cy="1017.5" r="3.3" fill="#a2a2a2" stroke="#909090" stroke-width="0.7"/>
<circle cx="329.6" cy="1012.6" r="3.3" fill="#a2a2a2" stroke="#909090" stroke-width="0.7"/>
<circle cx="336.1" cy="1004.2" r="3.3" fill="#a2a2a2" stroke="#909090" stroke-width="0.7"/>
<circle cx="343" cy="990.1" r="3.3" fill="#a2a2a2" stroke="#909090" stroke-width="0.7"/>
<circle cx="346.4" cy="982.8" r="3.3" fill="#a2a2a2" stroke="#909090" stroke-width="0.7"/>
<circle cx="353.2" cy="978.9" r="3.3" fill="#a2a2a2" stroke="#909090" stroke-width="0.7"/>
<circle cx="356.5" cy="974" r="3.3" fill="#a2a2a2" stroke="#909090" stroke-width="0.7"/>
<circle cx="363.4" cy="973.8" r="3.3" fill="#a2a2a2" stroke="#909090" stroke-width="0.7"/>
<circle cx="367.1" cy="985.7" r="3.3" fill="#a2a2a2" stroke="#909090" stroke-width="0.7"/>
<circle cx="373.6" cy="994.2" r="3.3" fill="#a2a2a2" stroke="#909090" stroke-width="0.7"/>
<circle cx="380.2" cy="1000.1" r="3.3" fill="#a2a2a2" stroke="#909090" stroke-width="0.7"/>
<circle cx="384.2" cy="1000.7" r="3.3" fill="#a2a2a2" stroke="#909090" stroke-width="0.7"/>
<circle cx="390.4" cy="1006.1" r="3.3" fill="#a2a2a2" stroke="#909090" stroke-width="0.7"/>
<circle cx="394" cy="1010.2" r="3.3" fill="#a2a2a2" stroke="#909090" stroke-width="0.7"/>
<circle cx="400.5" cy="1008.9" r="3.3" fill="#a2a2a2" stroke="#909090" stroke-width="0.7"/>
<circle cx="405.1" cy="1008.9" r="3.3" fill="#a2a2a2" stroke="#909090" stroke-width="0.7"/>
<circle cx="411.1" cy="1012.3" r="3.3" fill="#a2a2a2" stroke="#909090" stroke-width="0.7"/>
<circle cx="417.7" cy="1017.5" r="3.3" fill="#a2a2a2" stroke="#909090" stroke-width="0.7"/>
<circle cx="422.1" cy="1017.5" r="3.3" fill="#a2a2a2" stroke="#909090" stroke-width="0.7"/>
<circle cx="428.3" cy="1011" r="3.3" fill="#a2a2a2" stroke="#909090" stroke-width="0.7"/>
<circle cx="431.5" cy="1006.6" r="3.3" fill="#a2a2a2" stroke="#909090" stroke-width="0.7"/>
<circle cx="438.4" cy="1005.6" r="3.3" fill="#a2a2a2" stroke="#909090" stroke-width="0.7"/>
<circle cx="442.1" cy="1015.1" r="3.3" fill="#a2a2a2" stroke="#909090" stroke-width="0.7"/>
<circle cx="448.7" cy="1025.2" r="3.3" fill="#a2a2a2" stroke="#909090" stroke-width="0.7"/>
<circle cx="452.7" cy="1020.3" r="3.3" fill="#a2a2a2" stroke="#909090" stroke-width="0.7"/>
<path d="M133.11,1033.84 L135.14,1031.54 L137.17,1029.39 L139.20,1027.37 L141.23,1025.49 L143.25,1023.73 L145.28,1022.10 L147.31,1020.58 L149.34,1019.18 L151.37,1017.90 L153.40,1016.72 L155.43,1015.64 L157.46,1014.67 L159.49,1013.79 L161.52,1013.00 L163.54,1012.30 L165.57,1011.68 L167.60,1011.15 L169.63,1010.69 L171.66,1010.30 L173.69,1009.98 L175.72,1009.73 L177.75,1009.54 L179.78,1009.40 L181.81,1009.32 L183.83,1009.28 L185.86,1009.29 L187.89,1009.34 L189.92,1009.43 L191.95,1009.55 L193.98,1009.70 L196.01,1009.87 L198.04,1010.07 L200.07,1010.28 L202.10,1010.51 L204.12,1010.74 L206.15,1010.98 L208.18,1011.22 L210.21,1011.46 L212.24,1011.70 L214.27,1011.92 L216.30,1012.13 L218.33,1012.31 L220.36,1012.48 L222.39,1012.62 L224.41,1012.73 L226.44,1012.81 L228.47,1012.85 L230.50,1012.84 L232.53,1012.80 L234.56,1012.70 L236.59,1012.54 L238.62,1012.33 L240.65,1012.06 L242.68,1011.72 L244.70,1011.31 L246.73,1010.83 L248.76,1010.27 L250.79,1009.63 L252.82,1008.91 L254.85,1008.09 L256.88,1007.18 L258.91,1006.18 L260.94,1005.07 L262.97,1003.86 L264.99,1002.54 L267.02,1001.11 L269.05,999.56 L271.08,997.89 L273.11,996.09 L275.14,994.17 L277.17,992.11 L279.20,989.91 L281.23,987.58 L283.26,985.10 L285.28,982.47 L287.31,979.69 L289.34,976.76 L291.37,973.66 L293.40,970.40" fill="none" stroke="#111111" stroke-width="2"/>
<path d="M293.40,1016.74 L295.43,1015.21 L297.46,1013.75 L299.49,1012.35 L301.52,1011.02 L303.54,1009.75 L305.57,1008.54 L307.60,1007.39 L309.63,1006.30 L311.66,1005.27 L313.69,1004.30 L315.72,1003.38 L317.75,1002.52 L319.78,1001.72 L321.81,1000.96 L323.83,1000.26 L325.86,999.62 L327.89,999.02 L329.92,998.47 L331.95,997.98 L333.98,997.53 L336.01,997.13 L338.04,996.77 L340.07,996.46 L342.10,996.20 L344.12,995.97 L346.15,995.79 L348.18,995.66 L350.21,995.56 L352.24,995.50 L354.27,995.48 L356.30,995.50 L358.33,995.56 L360.36,995.65 L362.39,995.78 L364.41,995.94 L366.44,996.14 L368.47,996.37 L370.50,996.63 L372.53,996.91 L374.56,997.23 L376.59,997.58 L378.62,997.96 L380.65,998.36 L382.68,998.79 L384.70,999.24 L386.73,999.71 L388.76,1000.21 L390.79,1000.73 L392.82,1001.28 L394.85,1001.84 L396.88,1002.42 L398.91,1003.02 L400.94,1003.64 L402.97,1004.27 L404.99,1004.92 L407.02,1005.58 L409.05,1006.26 L411.08,1006.95 L413.11,1007.65 L415.14,1008.36 L417.17,1009.08 L419.20,1009.81 L421.23,1010.55 L423.26,1011.30 L425.28,1012.05 L427.31,1012.81 L429.34,1013.57 L431.37,1014.33 L433.40,1015.10 L435.43,1015.87 L437.46,1016.63 L439.49,1017.40 L441.52,1018.17 L443.55,1018.93 L445.57,1019.69 L447.60,1020.45 L449.63,1021.20 L451.66,1021.95 L453.69,1022.68" fill="none" stroke="#111111" stroke-width="2"/>
<line x1="68.2" x2="68.2" y1="958.7" y2="1059.3" stroke="#262626" stroke-width="1.6"/>
<line x1="67.4" x2="518.8" y1="1058.5" y2="1058.5" stroke="#262626" stroke-width="1.6"/>
<line x1="60.7" x2="68.2" y1="975.8" y2="975.8" stroke="#262626" stroke-width="1.6"/>
<text x="52.5" y="975.8" transform="rotate(-90 52.5 975.8)" text-anchor="middle" font-size="18" fill="#111111" stroke="#111111">2</text>
<line x1="60.7" x2="68.2" y1="999.5" y2="999.5" stroke="#262626" stroke-width="1.6"/>
<text x="52.5" y="999.5" transform="rotate(-90 52.5 999.5)" text-anchor="middle" font-size="18" fill="#111111" stroke="#111111">1</text>
<line x1="60.7" x2="68.2" y1="1023.4" y2="1023.4" stroke="#262626" stroke-width="1.6"/>
<text x="52.5" y="1023.4" transform="rotate(-90 52.5 1023.4)" text-anchor="middle" font-size="18" fill="#111111" stroke="#111111">0</text>
<line x1="60.7" x2="68.2" y1="1047.2" y2="1047.2" stroke="#262626" stroke-width="1.6"/>
<text x="52.5" y="1047.2" transform="rotate(-90 52.5 1047.2)" text-anchor="middle" font-size="18" fill="#111111" stroke="#111111">-1</text>
<line x1="79.7" x2="79.7" y1="1058.5" y2="1065.4" stroke="#262626" stroke-width="1.6"/>
<text x="79.7" y="1081.2" text-anchor="middle" font-size="18" fill="#111111" stroke="#111111">-40</text>
<line x1="186.5" x2="186.5" y1="1058.5" y2="1065.4" stroke="#262626" stroke-width="1.6"/>
<text x="186.5" y="1081.2" text-anchor="middle" font-size="18" fill="#111111" stroke="#111111">-20</text>
<line x1="293.4" x2="293.4" y1="1058.5" y2="1065.4" stroke="#262626" stroke-width="1.6"/>
<text x="293.4" y="1081.2" text-anchor="middle" font-size="18" fill="#111111" stroke="#111111">0</text>
<line x1="400.3" x2="400.3" y1="1058.5" y2="1065.4" stroke="#262626" stroke-width="1.6"/>
<text x="400.3" y="1081.2" text-anchor="middle" font-size="18" fill="#111111" stroke="#111111">20</text>
<line x1="507.1" x2="507.1" y1="1058.5" y2="1065.4" stroke="#262626" stroke-width="1.6"/>
<text x="507.1" y="1081.2" text-anchor="middle" font-size="18" fill="#111111" stroke="#111111">40</text>
<text x="293.5" y="947.6" text-anchor="middle" font-size="24.5" letter-spacing="0.8" fill="#16223f" stroke="#16223f">hCOavg</text>
<text x="39.5" y="933.0" font-size="23" font-weight="bold" fill="#000" stroke="#000">E</text>
<rect x="74.7" y="1099.5" width="437.3" height="32.3" fill="#ffffff" stroke="#262626" stroke-width="1.4"/>
<circle cx="84.9" cy="1115.7" r="3.5" fill="#a2a2a2"/>
<text x="101.1" y="1121.0" font-size="14.3" fill="#111111" stroke="#111111">Sample average within bin</text>
<line x1="286.7" x2="346.5" y1="1115.7" y2="1115.7" stroke="#111111" stroke-width="1.8"/>
<text x="352.2" y="1121.0" font-size="14.3" fill="#111111" stroke="#111111">Polynomial fit of order 3</text>
<rect x="586.0" y="958.7" width="450.0" height="99.79999999999995" fill="#ffffff"/>
<line x1="586.0" x2="1036.0" y1="970.3" y2="970.3" stroke="#ecebeb" stroke-width="1.5"/>
<line x1="586.0" x2="1036.0" y1="985.6" y2="985.6" stroke="#ecebeb" stroke-width="1.5"/>
<line x1="586.0" x2="1036.0" y1="1000.9" y2="1000.9" stroke="#ecebeb" stroke-width="1.5"/>
<line x1="586.0" x2="1036.0" y1="1016.2" y2="1016.2" stroke="#ecebeb" stroke-width="1.5"/>
<line x1="586.0" x2="1036.0" y1="1031.5" y2="1031.5" stroke="#ecebeb" stroke-width="1.5"/>
<line x1="586.0" x2="1036.0" y1="1047.2" y2="1047.2" stroke="#ecebeb" stroke-width="1.5"/>
<line x1="810.6" x2="810.6" y1="958.7" y2="1058.5" stroke="#111111" stroke-width="1.6"/>
<circle cx="650.6" cy="1003.7" r="3.3" fill="#a2a2a2" stroke="#909090" stroke-width="0.7"/>
<circle cx="655.8" cy="1018.7" r="3.3" fill="#a2a2a2" stroke="#909090" stroke-width="0.7"/>
<circle cx="661.2" cy="1028.1" r="3.3" fill="#a2a2a2" stroke="#909090" stroke-width="0.7"/>
<circle cx="666.4" cy="1041.5" r="3.3" fill="#a2a2a2" stroke="#909090" stroke-width="0.7"/>
<circle cx="672.1" cy="1030.1" r="3.3" fill="#a2a2a2" stroke="#909090" stroke-width="0.7"/>
<circle cx="677.2" cy="1013.5" r="3.3" fill="#a2a2a2" stroke="#909090" stroke-width="0.7"/>
<circle cx="682.7" cy="1002.9" r="3.3" fill="#a2a2a2" stroke="#909090" stroke-width="0.7"/>
<circle cx="688.1" cy="1017" r="3.3" fill="#a2a2a2" stroke="#909090" stroke-width="0.7"/>
<circle cx="693.5" cy="1007.4" r="3.3" fill="#a2a2a2" stroke="#909090" stroke-width="0.7"/>
<circle cx="699" cy="1002.4" r="3.3" fill="#a2a2a2" stroke="#909090" stroke-width="0.7"/>
<circle cx="704.4" cy="1001.2" r="3.3" fill="#a2a2a2" stroke="#909090" stroke-width="0.7"/>
<circle cx="709.3" cy="1008.6" r="3.3" fill="#a2a2a2" stroke="#909090" stroke-width="0.7"/>
<circle cx="715" cy="1008.9" r="3.3" fill="#a2a2a2" stroke="#909090" stroke-width="0.7"/>
<circle cx="719.9" cy="1004" r="3.3" fill="#a2a2a2" stroke="#909090" stroke-width="0.7"/>
<circle cx="725.3" cy="990.9" r="3.3" fill="#a2a2a2" stroke="#909090" stroke-width="0.7"/>
<circle cx="730.8" cy="999.6" r="3.3" fill="#a2a2a2" stroke="#909090" stroke-width="0.7"/>
<circle cx="736.2" cy="997.1" r="3.3" fill="#a2a2a2" stroke="#909090" stroke-width="0.7"/>
<circle cx="741.5" cy="990.3" r="3.3" fill="#a2a2a2" stroke="#909090" stroke-width="0.7"/>
<circle cx="746.8" cy="996.8" r="3.3" fill="#a2a2a2" stroke="#909090" stroke-width="0.7"/>
<circle cx="752.2" cy="1003.3" r="3.3" fill="#a2a2a2" stroke="#909090" stroke-width="0.7"/>
<circle cx="757.4" cy="1028.5" r="3.3" fill="#a2a2a2" stroke="#909090" stroke-width="0.7"/>
<circle cx="762.8" cy="1027.3" r="3.3" fill="#a2a2a2" stroke="#909090" stroke-width="0.7"/>
<circle cx="768.4" cy="1011.5" r="3.3" fill="#a2a2a2" stroke="#909090" stroke-width="0.7"/>
<circle cx="773.7" cy="1007.3" r="3.3" fill="#a2a2a2" stroke="#909090" stroke-width="0.7"/>
<circle cx="779" cy="999.3" r="3.3" fill="#a2a2a2" stroke="#909090" stroke-width="0.7"/>
<circle cx="784.3" cy="1004.5" r="3.3" fill="#a2a2a2" stroke="#909090" stroke-width="0.7"/>
<circle cx="789.7" cy="1024.9" r="3.3" fill="#a2a2a2" stroke="#909090" stroke-width="0.7"/>
<circle cx="795" cy="1033.8" r="3.3" fill="#a2a2a2" stroke="#909090" stroke-width="0.7"/>
<circle cx="800.7" cy="1024.1" r="3.3" fill="#a2a2a2" stroke="#909090" stroke-width="0.7"/>
<circle cx="805.9" cy="1029.4" r="3.3" fill="#a2a2a2" stroke="#909090" stroke-width="0.7"/>
<circle cx="811.2" cy="1021.9" r="3.3" fill="#a2a2a2" stroke="#909090" stroke-width="0.7"/>
<circle cx="816.4" cy="1002.4" r="3.3" fill="#a2a2a2" stroke="#909090" stroke-width="0.7"/>
<circle cx="821.3" cy="1011.8" r="3.3" fill="#a2a2a2" stroke="#909090" stroke-width="0.7"/>
<circle cx="827" cy="1033.4" r="3.3" fill="#a2a2a2" stroke="#909090" stroke-width="0.7"/>
<circle cx="832.2" cy="1023.7" r="3.3" fill="#a2a2a2" stroke="#909090" stroke-width="0.7"/>
<circle cx="837.6" cy="1006.6" r="3.3" fill="#a2a2a2" stroke="#909090" stroke-width="0.7"/>
<circle cx="842.8" cy="999.6" r="3.3" fill="#a2a2a2" stroke="#909090" stroke-width="0.7"/>
<circle cx="848.2" cy="1000.1" r="3.3" fill="#a2a2a2" stroke="#909090" stroke-width="0.7"/>
<circle cx="853.6" cy="1006.6" r="3.3" fill="#a2a2a2" stroke="#909090" stroke-width="0.7"/>
<circle cx="859.2" cy="1018" r="3.3" fill="#a2a2a2" stroke="#909090" stroke-width="0.7"/>
<circle cx="864.2" cy="1029.8" r="3.3" fill="#a2a2a2" stroke="#909090" stroke-width="0.7"/>
<circle cx="869.8" cy="1008.2" r="3.3" fill="#a2a2a2" stroke="#909090" stroke-width="0.7"/>
<circle cx="875.1" cy="1011" r="3.3" fill="#a2a2a2" stroke="#909090" stroke-width="0.7"/>
<circle cx="880.5" cy="1024.5" r="3.3" fill="#a2a2a2" stroke="#909090" stroke-width="0.7"/>
<circle cx="885.7" cy="1017.5" r="3.3" fill="#a2a2a2" stroke="#909090" stroke-width="0.7"/>
<circle cx="891.1" cy="1029.4" r="3.3" fill="#a2a2a2" stroke="#909090" stroke-width="0.7"/>
<circle cx="896.7" cy="1032.2" r="3.3" fill="#a2a2a2" stroke="#909090" stroke-width="0.7"/>
<circle cx="901.6" cy="1015.4" r="3.3" fill="#a2a2a2" stroke="#909090" stroke-width="0.7"/>
<circle cx="906.9" cy="994.7" r="3.3" fill="#a2a2a2" stroke="#909090" stroke-width="0.7"/>
<circle cx="912.2" cy="988.5" r="3.3" fill="#a2a2a2" stroke="#909090" stroke-width="0.7"/>
<circle cx="917.5" cy="1002.5" r="3.3" fill="#a2a2a2" stroke="#909090" stroke-width="0.7"/>
<circle cx="922.9" cy="1018" r="3.3" fill="#a2a2a2" stroke="#909090" stroke-width="0.7"/>
<circle cx="928.5" cy="1011" r="3.3" fill="#a2a2a2" stroke="#909090" stroke-width="0.7"/>
<circle cx="933.9" cy="1001.2" r="3.3" fill="#a2a2a2" stroke="#909090" stroke-width="0.7"/>
<circle cx="939.2" cy="1007.3" r="3.3" fill="#a2a2a2" stroke="#909090" stroke-width="0.7"/>
<circle cx="944.5" cy="1019.5" r="3.3" fill="#a2a2a2" stroke="#909090" stroke-width="0.7"/>
<circle cx="949.8" cy="1025.4" r="3.3" fill="#a2a2a2" stroke="#909090" stroke-width="0.7"/>
<circle cx="955.1" cy="1030.6" r="3.3" fill="#a2a2a2" stroke="#909090" stroke-width="0.7"/>
<circle cx="960.8" cy="1013" r="3.3" fill="#a2a2a2" stroke="#909090" stroke-width="0.7"/>
<circle cx="966" cy="981.7" r="3.3" fill="#a2a2a2" stroke="#909090" stroke-width="0.7"/>
<circle cx="971.4" cy="977.9" r="3.3" fill="#a2a2a2" stroke="#909090" stroke-width="0.7"/>
<path d="M650.31,1023.03 L652.34,1022.44 L654.37,1021.83 L656.40,1021.22 L658.43,1020.59 L660.45,1019.95 L662.48,1019.30 L664.51,1018.64 L666.54,1017.98 L668.57,1017.31 L670.60,1016.63 L672.63,1015.96 L674.66,1015.28 L676.69,1014.61 L678.72,1013.93 L680.74,1013.26 L682.77,1012.59 L684.80,1011.93 L686.83,1011.28 L688.86,1010.63 L690.89,1009.99 L692.92,1009.37 L694.95,1008.76 L696.98,1008.16 L699.01,1007.57 L701.03,1007.01 L703.06,1006.46 L705.09,1005.93 L707.12,1005.42 L709.15,1004.93 L711.18,1004.47 L713.21,1004.03 L715.24,1003.62 L717.27,1003.23 L719.30,1002.88 L721.32,1002.55 L723.35,1002.26 L725.38,1001.99 L727.41,1001.77 L729.44,1001.58 L731.47,1001.42 L733.50,1001.31 L735.53,1001.23 L737.56,1001.20 L739.59,1001.20 L741.61,1001.26 L743.64,1001.35 L745.67,1001.50 L747.70,1001.69 L749.73,1001.93 L751.76,1002.22 L753.79,1002.57 L755.82,1002.96 L757.85,1003.42 L759.88,1003.92 L761.90,1004.49 L763.93,1005.12 L765.96,1005.80 L767.99,1006.55 L770.02,1007.36 L772.05,1008.23 L774.08,1009.17 L776.11,1010.18 L778.14,1011.25 L780.17,1012.40 L782.19,1013.62 L784.22,1014.91 L786.25,1016.27 L788.28,1017.71 L790.31,1019.22 L792.34,1020.82 L794.37,1022.49 L796.40,1024.24 L798.43,1026.08 L800.46,1028.00 L802.48,1030.00 L804.51,1032.09 L806.54,1034.27 L808.57,1036.53 L810.60,1038.89" fill="none" stroke="#111111" stroke-width="2"/>
<path d="M810.60,1017.48 L812.63,1016.92 L814.66,1016.40 L816.69,1015.92 L818.72,1015.48 L820.74,1015.08 L822.77,1014.72 L824.80,1014.40 L826.83,1014.11 L828.86,1013.86 L830.89,1013.64 L832.92,1013.45 L834.95,1013.29 L836.98,1013.16 L839.01,1013.05 L841.03,1012.97 L843.06,1012.91 L845.09,1012.88 L847.12,1012.87 L849.15,1012.87 L851.18,1012.90 L853.21,1012.94 L855.24,1012.99 L857.27,1013.06 L859.30,1013.14 L861.32,1013.23 L863.35,1013.33 L865.38,1013.44 L867.41,1013.55 L869.44,1013.67 L871.47,1013.80 L873.50,1013.92 L875.53,1014.05 L877.56,1014.17 L879.59,1014.29 L881.61,1014.41 L883.64,1014.52 L885.67,1014.63 L887.70,1014.72 L889.73,1014.81 L891.76,1014.89 L893.79,1014.95 L895.82,1015.00 L897.85,1015.04 L899.88,1015.06 L901.90,1015.06 L903.93,1015.04 L905.96,1015.00 L907.99,1014.93 L910.02,1014.84 L912.05,1014.73 L914.08,1014.59 L916.11,1014.42 L918.14,1014.22 L920.17,1013.99 L922.19,1013.72 L924.22,1013.43 L926.25,1013.09 L928.28,1012.72 L930.31,1012.31 L932.34,1011.86 L934.37,1011.37 L936.40,1010.83 L938.43,1010.26 L940.46,1009.63 L942.48,1008.96 L944.51,1008.24 L946.54,1007.47 L948.57,1006.64 L950.60,1005.77 L952.63,1004.84 L954.66,1003.85 L956.69,1002.80 L958.72,1001.70 L960.75,1000.54 L962.77,999.31 L964.80,998.02 L966.83,996.67 L968.86,995.25 L970.89,993.76" fill="none" stroke="#111111" stroke-width="2"/>
<line x1="586.0" x2="586.0" y1="958.7" y2="1059.3" stroke="#262626" stroke-width="1.6"/>
<line x1="585.2" x2="1036.0" y1="1058.5" y2="1058.5" stroke="#262626" stroke-width="1.6"/>
<line x1="578.5" x2="586.0" y1="970.3" y2="970.3" stroke="#262626" stroke-width="1.6"/>
<text x="570.3" y="970.3" transform="rotate(-90 570.3 970.3)" text-anchor="middle" font-size="18" fill="#111111" stroke="#111111">-.2</text>
<line x1="578.5" x2="586.0" y1="985.6" y2="985.6" stroke="#262626" stroke-width="1.6"/>
<text x="570.3" y="985.6" transform="rotate(-90 570.3 985.6)" text-anchor="middle" font-size="18" fill="#111111" stroke="#111111">-.4</text>
<line x1="578.5" x2="586.0" y1="1000.9" y2="1000.9" stroke="#262626" stroke-width="1.6"/>
<text x="570.3" y="1000.9" transform="rotate(-90 570.3 1000.9)" text-anchor="middle" font-size="18" fill="#111111" stroke="#111111">-.6</text>
<line x1="578.5" x2="586.0" y1="1016.2" y2="1016.2" stroke="#262626" stroke-width="1.6"/>
<text x="570.3" y="1016.2" transform="rotate(-90 570.3 1016.2)" text-anchor="middle" font-size="18" fill="#111111" stroke="#111111">-.8</text>
<line x1="578.5" x2="586.0" y1="1031.5" y2="1031.5" stroke="#262626" stroke-width="1.6"/>
<text x="570.3" y="1031.5" transform="rotate(-90 570.3 1031.5)" text-anchor="middle" font-size="18" fill="#111111" stroke="#111111">-1</text>
<line x1="578.5" x2="586.0" y1="1047.2" y2="1047.2" stroke="#262626" stroke-width="1.6"/>
<text x="570.3" y="1047.2" transform="rotate(-90 570.3 1047.2)" text-anchor="middle" font-size="18" fill="#111111" stroke="#111111">-1.2</text>
<line x1="596.9" x2="596.9" y1="1058.5" y2="1065.4" stroke="#262626" stroke-width="1.6"/>
<text x="596.9" y="1081.2" text-anchor="middle" font-size="18" fill="#111111" stroke="#111111">-40</text>
<line x1="703.7" x2="703.7" y1="1058.5" y2="1065.4" stroke="#262626" stroke-width="1.6"/>
<text x="703.7" y="1081.2" text-anchor="middle" font-size="18" fill="#111111" stroke="#111111">-20</text>
<line x1="810.6" x2="810.6" y1="1058.5" y2="1065.4" stroke="#262626" stroke-width="1.6"/>
<text x="810.6" y="1081.2" text-anchor="middle" font-size="18" fill="#111111" stroke="#111111">0</text>
<line x1="917.5" x2="917.5" y1="1058.5" y2="1065.4" stroke="#262626" stroke-width="1.6"/>
<text x="917.5" y="1081.2" text-anchor="middle" font-size="18" fill="#111111" stroke="#111111">20</text>
<line x1="1024.3" x2="1024.3" y1="1058.5" y2="1065.4" stroke="#262626" stroke-width="1.6"/>
<text x="1024.3" y="1081.2" text-anchor="middle" font-size="18" fill="#111111" stroke="#111111">40</text>
<text x="811.0" y="947.6" text-anchor="middle" font-size="24.5" letter-spacing="0.5" fill="#16223f" stroke="#16223f">hO<tspan font-size="14.5" letter-spacing="0" dy="4">3</tspan><tspan dy="-4" letter-spacing="0.9">avg</tspan></text>
<text x="555.3" y="933.0" font-size="23" font-weight="bold" fill="#000" stroke="#000">F</text>
<rect x="592.5" y="1099.5" width="437.3" height="32.3" fill="#ffffff" stroke="#262626" stroke-width="1.4"/>
<circle cx="602.7" cy="1115.7" r="3.5" fill="#a2a2a2"/>
<text x="618.9" y="1121.0" font-size="14.3" fill="#111111" stroke="#111111">Sample average within bin</text>
<line x1="804.5" x2="864.3" y1="1115.7" y2="1115.7" stroke="#111111" stroke-width="1.8"/>
<text x="870.0" y="1121.0" font-size="14.3" fill="#111111" stroke="#111111">Polynomial fit of order 3</text>
</svg>
</body></html>
